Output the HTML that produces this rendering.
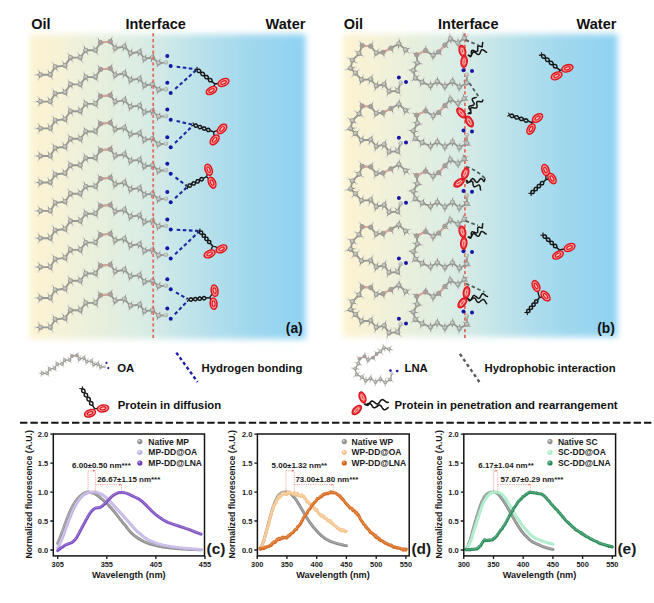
<!DOCTYPE html><html><head><meta charset="utf-8"><title>Figure</title><style>html,body{margin:0;padding:0;background:#fff}svg{display:block}text{font-family:"Liberation Sans",sans-serif}</style></head><body><svg width="654" height="603" viewBox="0 0 654 603"><defs><g id="oa"><path d="M40.5 74.8L38.3 79.6M40.5 74.8L35.2 74.8M40.5 74.8L38.3 70M50.3 74.8L52.9 79.4M50.3 74.8L47.8 70.1M55.2 66.8L57.9 71.3M55.2 66.8L52.4 62.3M65 65.6L67.7 70.1M65 65.6L62.3 61M70.5 57.6L72.9 62.3M70.5 57.6L68 52.9M80.3 57.6L82.6 62.4M80.3 57.6L78.1 52.8M85.8 50.3L88 55.1M85.8 50.3L83.5 45.5M95.5 50.3L98 55M95.5 50.3L93.1 45.6M100.5 42.6L97.7 38.1M110.3 41.6L112.5 36.8M115.2 48.3L113.4 53.3M115.2 48.3L116.7 43.2M124.4 46.5L122.8 51.6M124.4 46.5L126 41.5M130.5 53.2L128.7 58.2M130.5 53.2L132.3 48.2M139.6 52L137.8 57M139.6 52L141.6 47.1M144.5 58.7L142.4 63.6M144.5 58.7L146.6 53.8M152.5 57.5L150.9 62.6M152.5 57.5L154 52.4M158.6 63L156.8 68M158.6 63L160.6 58.1" stroke="#8a8b86" stroke-width="1" fill="none"/><g fill="#e0e1db"><circle cx="38.3" cy="79.6" r="1.2"/><circle cx="35.2" cy="74.8" r="1.2"/><circle cx="38.3" cy="70" r="1.2"/><circle cx="52.9" cy="79.4" r="1.2"/><circle cx="47.8" cy="70.1" r="1.2"/><circle cx="57.9" cy="71.3" r="1.2"/><circle cx="52.4" cy="62.3" r="1.2"/><circle cx="67.7" cy="70.1" r="1.2"/><circle cx="62.3" cy="61" r="1.2"/><circle cx="72.9" cy="62.3" r="1.2"/><circle cx="68" cy="52.9" r="1.2"/><circle cx="82.6" cy="62.4" r="1.2"/><circle cx="78.1" cy="52.8" r="1.2"/><circle cx="88" cy="55.1" r="1.2"/><circle cx="83.5" cy="45.5" r="1.2"/><circle cx="98" cy="55" r="1.2"/><circle cx="93.1" cy="45.6" r="1.2"/><circle cx="97.7" cy="38.1" r="1.2"/><circle cx="112.5" cy="36.8" r="1.2"/><circle cx="113.4" cy="53.3" r="1.2"/><circle cx="116.7" cy="43.2" r="1.2"/><circle cx="122.8" cy="51.6" r="1.2"/><circle cx="126" cy="41.5" r="1.2"/><circle cx="128.7" cy="58.2" r="1.2"/><circle cx="132.3" cy="48.2" r="1.2"/><circle cx="137.8" cy="57" r="1.2"/><circle cx="141.6" cy="47.1" r="1.2"/><circle cx="142.4" cy="63.6" r="1.2"/><circle cx="146.6" cy="53.8" r="1.2"/><circle cx="150.9" cy="62.6" r="1.2"/><circle cx="154" cy="52.4" r="1.2"/><circle cx="156.8" cy="68" r="1.2"/><circle cx="160.6" cy="58.1" r="1.2"/></g><path d="M40.5 74.8L50.3 74.8L55.2 66.8L65 65.6L70.5 57.6L80.3 57.6L85.8 50.3L95.5 50.3L100.5 42.6L110.3 41.6L115.2 48.3L124.4 46.5L130.5 53.2L139.6 52L144.5 58.7L152.5 57.5L158.6 63L166 62.6" stroke="#989994" stroke-width="1.9" fill="none" stroke-linejoin="round"/><path d="M100.5 42.6L110.3 41.6" stroke="#dfa59b" stroke-width="1.9"/><g fill="#a4a5a0" stroke="#878883" stroke-width="0.5"><circle cx="40.5" cy="74.8" r="2.3"/><circle cx="50.3" cy="74.8" r="2.3"/><circle cx="55.2" cy="66.8" r="2.3"/><circle cx="65" cy="65.6" r="2.3"/><circle cx="70.5" cy="57.6" r="2.3"/><circle cx="80.3" cy="57.6" r="2.3"/><circle cx="85.8" cy="50.3" r="2.3"/><circle cx="95.5" cy="50.3" r="2.3"/><circle cx="100.5" cy="42.6" r="2.3"/><circle cx="110.3" cy="41.6" r="2.3"/><circle cx="115.2" cy="48.3" r="2.3"/><circle cx="124.4" cy="46.5" r="2.3"/><circle cx="130.5" cy="53.2" r="2.3"/><circle cx="139.6" cy="52" r="2.3"/><circle cx="144.5" cy="58.7" r="2.3"/><circle cx="152.5" cy="57.5" r="2.3"/><circle cx="158.6" cy="63" r="2.3"/></g><g fill="#c6c7c2"><circle cx="40.2" cy="74.4" r="1.4"/><circle cx="50" cy="74.4" r="1.4"/><circle cx="54.9" cy="66.4" r="1.4"/><circle cx="64.7" cy="65.2" r="1.4"/><circle cx="70.2" cy="57.2" r="1.4"/><circle cx="80" cy="57.2" r="1.4"/><circle cx="85.5" cy="49.9" r="1.4"/><circle cx="95.2" cy="49.9" r="1.4"/><circle cx="100.2" cy="42.2" r="1.4"/><circle cx="110" cy="41.2" r="1.4"/><circle cx="114.9" cy="47.9" r="1.4"/><circle cx="124.1" cy="46.1" r="1.4"/><circle cx="130.2" cy="52.8" r="1.4"/><circle cx="139.3" cy="51.6" r="1.4"/><circle cx="144.2" cy="58.3" r="1.4"/><circle cx="152.2" cy="57.1" r="1.4"/><circle cx="158.3" cy="62.6" r="1.4"/></g><circle cx="100.5" cy="42.6" r="2.2" fill="#a79d99"/><circle cx="110.3" cy="41.6" r="2.2" fill="#a79d99"/><circle cx="166" cy="62.6" r="2.3" fill="#b3bab0"/><circle cx="165.6" cy="62.1" r="1" fill="#d5d9d3"/><circle cx="167.3" cy="56" r="2" fill="#1616a6"/><circle cx="170.7" cy="66.1" r="2" fill="#1616a6"/></g><g id="lnal"><path d="M405.6 49.9L410.5 47.9M405.6 49.9L409.5 53.5M405.6 49.9L404 55M398.9 43.8L399.5 38.5M398.9 43.8L398.3 49.1M390.9 48.1L393.4 52.8M383 52.3L384.5 57.4M376.3 53L379.1 48.5M376.3 53L374.1 57.8M370.7 46.2L373.1 41.5M362.2 45.6L359.4 41.1M359.1 53.6L354.7 50.6M359.1 53.6L363.5 56.5M352.4 60.3L347.8 57.7M352.4 60.3L356.9 63.1M350.6 68.3L345.5 69.6M350.6 68.3L355.8 67.4M355.5 73.1L351.6 76.7M355.5 73.1L359.3 69.4M361.6 79.9L359.6 84.8M361.6 79.9L363.6 75M370.7 79.3L368.7 84.2M370.7 79.3L372.8 74.4M376.3 86L374.5 91M376.3 86L378.2 81.1M384.2 84.2L381.9 89M384.2 84.2L386.2 79.3M389.1 91.5L386.8 96.3M389.1 91.5L391.5 86.8M397.7 90.9L400.9 95.2M397.7 90.9L394.6 86.6" stroke="#8a8b86" stroke-width="1" fill="none"/><g fill="#e0e1db"><circle cx="410.5" cy="47.9" r="1.2"/><circle cx="409.5" cy="53.5" r="1.2"/><circle cx="404" cy="55" r="1.2"/><circle cx="399.5" cy="38.5" r="1.2"/><circle cx="398.3" cy="49.1" r="1.2"/><circle cx="393.4" cy="52.8" r="1.2"/><circle cx="384.5" cy="57.4" r="1.2"/><circle cx="379.1" cy="48.5" r="1.2"/><circle cx="374.1" cy="57.8" r="1.2"/><circle cx="373.1" cy="41.5" r="1.2"/><circle cx="359.4" cy="41.1" r="1.2"/><circle cx="354.7" cy="50.6" r="1.2"/><circle cx="363.5" cy="56.5" r="1.2"/><circle cx="347.8" cy="57.7" r="1.2"/><circle cx="356.9" cy="63.1" r="1.2"/><circle cx="345.5" cy="69.6" r="1.2"/><circle cx="355.8" cy="67.4" r="1.2"/><circle cx="351.6" cy="76.7" r="1.2"/><circle cx="359.3" cy="69.4" r="1.2"/><circle cx="359.6" cy="84.8" r="1.2"/><circle cx="363.6" cy="75" r="1.2"/><circle cx="368.7" cy="84.2" r="1.2"/><circle cx="372.8" cy="74.4" r="1.2"/><circle cx="374.5" cy="91" r="1.2"/><circle cx="378.2" cy="81.1" r="1.2"/><circle cx="381.9" cy="89" r="1.2"/><circle cx="386.2" cy="79.3" r="1.2"/><circle cx="386.8" cy="96.3" r="1.2"/><circle cx="391.5" cy="86.8" r="1.2"/><circle cx="400.9" cy="95.2" r="1.2"/><circle cx="394.6" cy="86.6" r="1.2"/></g><path d="M405.6 49.9L398.9 43.8L390.9 48.1L383 52.3L376.3 53L370.7 46.2L362.2 45.6L359.1 53.6L352.4 60.3L350.6 68.3L355.5 73.1L361.6 79.9L370.7 79.3L376.3 86L384.2 84.2L389.1 91.5L397.7 90.9L400.7 82.9" stroke="#989994" stroke-width="1.9" fill="none" stroke-linejoin="round"/><path d="M390.9 48.1L383 52.3" stroke="#dfa59b" stroke-width="1.9"/><path d="M370.7 46.2L362.2 45.6" stroke="#dfa59b" stroke-width="1.9"/><g fill="#a4a5a0" stroke="#878883" stroke-width="0.5"><circle cx="405.6" cy="49.9" r="2.3"/><circle cx="398.9" cy="43.8" r="2.3"/><circle cx="390.9" cy="48.1" r="2.3"/><circle cx="383" cy="52.3" r="2.3"/><circle cx="376.3" cy="53" r="2.3"/><circle cx="370.7" cy="46.2" r="2.3"/><circle cx="362.2" cy="45.6" r="2.3"/><circle cx="359.1" cy="53.6" r="2.3"/><circle cx="352.4" cy="60.3" r="2.3"/><circle cx="350.6" cy="68.3" r="2.3"/><circle cx="355.5" cy="73.1" r="2.3"/><circle cx="361.6" cy="79.9" r="2.3"/><circle cx="370.7" cy="79.3" r="2.3"/><circle cx="376.3" cy="86" r="2.3"/><circle cx="384.2" cy="84.2" r="2.3"/><circle cx="389.1" cy="91.5" r="2.3"/><circle cx="397.7" cy="90.9" r="2.3"/></g><g fill="#c6c7c2"><circle cx="405.3" cy="49.5" r="1.4"/><circle cx="398.6" cy="43.4" r="1.4"/><circle cx="390.6" cy="47.7" r="1.4"/><circle cx="382.7" cy="51.9" r="1.4"/><circle cx="376" cy="52.6" r="1.4"/><circle cx="370.4" cy="45.8" r="1.4"/><circle cx="361.9" cy="45.2" r="1.4"/><circle cx="358.8" cy="53.2" r="1.4"/><circle cx="352.1" cy="59.9" r="1.4"/><circle cx="350.3" cy="67.9" r="1.4"/><circle cx="355.2" cy="72.7" r="1.4"/><circle cx="361.3" cy="79.5" r="1.4"/><circle cx="370.4" cy="78.9" r="1.4"/><circle cx="376" cy="85.6" r="1.4"/><circle cx="383.9" cy="83.8" r="1.4"/><circle cx="388.8" cy="91.1" r="1.4"/><circle cx="397.4" cy="90.5" r="1.4"/></g><circle cx="390.9" cy="48.1" r="2.2" fill="#a79d99"/><circle cx="383" cy="52.3" r="2.2" fill="#a79d99"/><circle cx="370.7" cy="46.2" r="2.2" fill="#a79d99"/><circle cx="362.2" cy="45.6" r="2.2" fill="#a79d99"/><circle cx="400.7" cy="82.9" r="2.3" fill="#b3bab0"/><circle cx="400.3" cy="82.4" r="1" fill="#d5d9d3"/><circle cx="398.9" cy="77.4" r="2" fill="#1616a6"/><circle cx="406" cy="82" r="2" fill="#1616a6"/></g><g id="lnar"><path d="M464.2 38.3L463 33.1M464.2 38.3L468.4 35.1M464.2 38.3L468.9 40.7M458 43.1L458 37.8M458 43.1L458.3 48.4M450.4 38.9L449.6 33.7M450.4 38.9L451.1 44.2M444.9 45.1L448.9 48.6M438.7 52L442.1 56M433.2 55.5L434.4 50.3M433.2 55.5L432.8 60.8M425.6 50.6L425.9 45.3M416.7 54.8L412.1 52.2M417.4 63L412.2 61.8M417.4 63L422.6 64.1M413.3 70.6L408 69.9M413.3 70.6L418.5 71.4M415.3 78.2L411.1 81.4M415.3 78.2L419.5 75M422.2 82.3L419.8 87M422.2 82.3L424.5 77.5M430.5 85.7L430.8 91M430.5 85.7L430.5 80.4M437.3 81.6L436.8 86.9M437.3 81.6L437.5 76.3M444.9 86.4L444.9 91.7M444.9 86.4L444.9 81.1M452.5 81.6L452.3 86.9M452.5 81.6L452.8 76.3M459.4 87.1L458.9 92.4M459.4 87.1L460 81.8M466.9 83L471.4 85.7M466.9 83L462.4 80.2" stroke="#8a8b86" stroke-width="1" fill="none"/><g fill="#e0e1db"><circle cx="463" cy="33.1" r="1.2"/><circle cx="468.4" cy="35.1" r="1.2"/><circle cx="468.9" cy="40.7" r="1.2"/><circle cx="458" cy="37.8" r="1.2"/><circle cx="458.3" cy="48.4" r="1.2"/><circle cx="449.6" cy="33.7" r="1.2"/><circle cx="451.1" cy="44.2" r="1.2"/><circle cx="448.9" cy="48.6" r="1.2"/><circle cx="442.1" cy="56" r="1.2"/><circle cx="434.4" cy="50.3" r="1.2"/><circle cx="432.8" cy="60.8" r="1.2"/><circle cx="425.9" cy="45.3" r="1.2"/><circle cx="412.1" cy="52.2" r="1.2"/><circle cx="412.2" cy="61.8" r="1.2"/><circle cx="422.6" cy="64.1" r="1.2"/><circle cx="408" cy="69.9" r="1.2"/><circle cx="418.5" cy="71.4" r="1.2"/><circle cx="411.1" cy="81.4" r="1.2"/><circle cx="419.5" cy="75" r="1.2"/><circle cx="419.8" cy="87" r="1.2"/><circle cx="424.5" cy="77.5" r="1.2"/><circle cx="430.8" cy="91" r="1.2"/><circle cx="430.5" cy="80.4" r="1.2"/><circle cx="436.8" cy="86.9" r="1.2"/><circle cx="437.5" cy="76.3" r="1.2"/><circle cx="444.9" cy="91.7" r="1.2"/><circle cx="444.9" cy="81.1" r="1.2"/><circle cx="452.3" cy="86.9" r="1.2"/><circle cx="452.8" cy="76.3" r="1.2"/><circle cx="458.9" cy="92.4" r="1.2"/><circle cx="460" cy="81.8" r="1.2"/><circle cx="471.4" cy="85.7" r="1.2"/><circle cx="462.4" cy="80.2" r="1.2"/></g><path d="M464.2 38.3L458 43.1L450.4 38.9L444.9 45.1L438.7 52L433.2 55.5L425.6 50.6L416.7 54.8L417.4 63L413.3 70.6L415.3 78.2L422.2 82.3L430.5 85.7L437.3 81.6L444.9 86.4L452.5 81.6L459.4 87.1L466.9 83L466.9 74.7" stroke="#989994" stroke-width="1.9" fill="none" stroke-linejoin="round"/><path d="M444.9 45.1L438.7 52" stroke="#dfa59b" stroke-width="1.9"/><path d="M425.6 50.6L416.7 54.8" stroke="#dfa59b" stroke-width="1.9"/><g fill="#a4a5a0" stroke="#878883" stroke-width="0.5"><circle cx="464.2" cy="38.3" r="2.3"/><circle cx="458" cy="43.1" r="2.3"/><circle cx="450.4" cy="38.9" r="2.3"/><circle cx="444.9" cy="45.1" r="2.3"/><circle cx="438.7" cy="52" r="2.3"/><circle cx="433.2" cy="55.5" r="2.3"/><circle cx="425.6" cy="50.6" r="2.3"/><circle cx="416.7" cy="54.8" r="2.3"/><circle cx="417.4" cy="63" r="2.3"/><circle cx="413.3" cy="70.6" r="2.3"/><circle cx="415.3" cy="78.2" r="2.3"/><circle cx="422.2" cy="82.3" r="2.3"/><circle cx="430.5" cy="85.7" r="2.3"/><circle cx="437.3" cy="81.6" r="2.3"/><circle cx="444.9" cy="86.4" r="2.3"/><circle cx="452.5" cy="81.6" r="2.3"/><circle cx="459.4" cy="87.1" r="2.3"/><circle cx="466.9" cy="83" r="2.3"/></g><g fill="#c6c7c2"><circle cx="463.9" cy="37.9" r="1.4"/><circle cx="457.7" cy="42.7" r="1.4"/><circle cx="450.1" cy="38.5" r="1.4"/><circle cx="444.6" cy="44.7" r="1.4"/><circle cx="438.4" cy="51.6" r="1.4"/><circle cx="432.9" cy="55.1" r="1.4"/><circle cx="425.3" cy="50.2" r="1.4"/><circle cx="416.4" cy="54.4" r="1.4"/><circle cx="417.1" cy="62.6" r="1.4"/><circle cx="413" cy="70.2" r="1.4"/><circle cx="415" cy="77.8" r="1.4"/><circle cx="421.9" cy="81.9" r="1.4"/><circle cx="430.2" cy="85.3" r="1.4"/><circle cx="437" cy="81.2" r="1.4"/><circle cx="444.6" cy="86" r="1.4"/><circle cx="452.2" cy="81.2" r="1.4"/><circle cx="459.1" cy="86.7" r="1.4"/><circle cx="466.6" cy="82.6" r="1.4"/></g><circle cx="444.9" cy="45.1" r="2.2" fill="#a79d99"/><circle cx="438.7" cy="52" r="2.2" fill="#a79d99"/><circle cx="425.6" cy="50.6" r="2.2" fill="#a79d99"/><circle cx="416.7" cy="54.8" r="2.2" fill="#a79d99"/><circle cx="466.9" cy="74.7" r="2.3" fill="#b3bab0"/><circle cx="466.5" cy="74.2" r="1" fill="#d5d9d3"/><circle cx="463.5" cy="70.2" r="2" fill="#1616a6"/><circle cx="472" cy="71" r="2" fill="#1616a6"/></g><linearGradient id="bg" x1="0" x2="1" y1="0" y2="0">
<stop offset="0" stop-color="#fdf3d0"/><stop offset="0.11" stop-color="#f6f2d7"/><stop offset="0.22" stop-color="#eaf0dc"/>
<stop offset="0.38" stop-color="#dcede3"/><stop offset="0.46" stop-color="#d3eae6"/><stop offset="0.62" stop-color="#b9e1ea"/>
<stop offset="0.8" stop-color="#a0d8ee"/><stop offset="1" stop-color="#8ed1f2"/></linearGradient>
<filter id="soft" x="-5%" y="-5%" width="110%" height="110%"><feGaussianBlur stdDeviation="3.3"/></filter>
<filter id="b3" x="-5%" y="-5%" width="110%" height="110%"><feGaussianBlur stdDeviation="0.45"/></filter></defs><rect width="654" height="603" fill="#fff"/><rect x="29.6" y="34.2" width="276" height="304.8" fill="url(#bg)" filter="url(#soft)"/>
<rect x="342.8" y="34" width="274.6" height="303" fill="url(#bg)" filter="url(#soft)"/>
<g filter="url(#b3)"><use href="#oa" y="0"/><use href="#oa" y="26.8"/><use href="#oa" y="53.6"/><use href="#oa" y="81.2"/><use href="#oa" y="107.7"/><use href="#oa" y="136.1"/><use href="#oa" y="163.4"/><use href="#oa" y="192.3"/><use href="#oa" y="223.2"/><use href="#oa" y="252.6"/></g>
<path d="M153.2 33.2V339.5" stroke="#e06c62" stroke-width="1.8" stroke-dasharray="3.3 2.5"/>
<path d="M464.9 33.2V339.5" stroke="#e06c62" stroke-width="1.8" stroke-dasharray="3.3 2.5"/>
<path d="M176.7 66.8L195.5 69.2M175.2 88.9L195.9 70.4M176.6 121L192.2 124.6M175 143.1L192.6 125.9M175.5 177.4L186.5 185.7M175.1 198.1L186.6 187.6M176.7 229.8L198.2 230.9M175.1 254.3L198.6 232M175.9 292.3L187.4 298.9M174.8 314.3L187.7 300.8" stroke="#1d28a4" stroke-width="2.1" stroke-dasharray="3.6 2.5" fill="none"/>
<path d="M197 69.4L197.1 70.3L197.2 71.1L197.4 71.8L197.8 72.3L198.4 72.5L199.1 72.6L199.9 72.6L200.8 72.5L201.7 72.3L202.5 72.3L203.2 72.4L203.7 72.7L204.1 73.2L204.4 73.8L204.5 74.6L204.6 75.5L204.6 76.4L204.7 77.2L205 77.9L205.4 78.4L205.9 78.7L206.6 78.8L207.5 78.7L208.3 78.6L209.2 78.5L210 78.4L210.7 78.5L211.3 78.8L211.7 79.3L211.9 80L212.1 80.8L212.1 81.7M197 69.4L197.9 69.3L198.7 69.2L199.4 69.3L200 69.6L200.4 70.1L200.6 70.8L200.7 71.6L200.8 72.5L200.8 73.4L201 74.2L201.2 74.8L201.6 75.3L202.2 75.6L202.9 75.7L203.7 75.7L204.6 75.5L205.4 75.4L206.3 75.4L207 75.5L207.5 75.7L207.9 76.2L208.2 76.9L208.3 77.7L208.3 78.6L208.4 79.5L208.5 80.3L208.8 81L209.2 81.5L209.7 81.7L210.4 81.8L211.2 81.8L212.1 81.7" fill="none" stroke="#161616" stroke-width="1.5" stroke-linejoin="round"/><path d="M212.1 81.7L215 84" stroke="#161616" stroke-width="1.5"/><path d="M197 69.4L194.4 69.9" stroke="#161616" stroke-width="1.1"/><path d="M197 69.4L197 66.8" stroke="#161616" stroke-width="1.1"/><path d="M215 84L219.2 83.2" stroke="#161616" stroke-width="1.3"/><path d="M215 84L213.2 87.2" stroke="#161616" stroke-width="1.3"/><g transform="translate(223.5 82.5) rotate(-25)" stroke="#e0121c"><ellipse rx="5.7" ry="3.4" stroke-width="1.5" fill="#f59a97"/><ellipse rx="2.9" ry="1.4" fill="#f9c4c0" stroke-width="1.1"/></g><g transform="translate(211.5 90.5) rotate(-30)" stroke="#e0121c"><ellipse rx="5.7" ry="3.4" stroke-width="1.5" fill="#f59a97"/><ellipse rx="2.9" ry="1.4" fill="#f9c4c0" stroke-width="1.1"/></g>
<path d="M193.7 124.9L194 125.7L194.4 126.4L194.8 126.9L195.2 127.2L195.8 127.3L196.4 127.1L197.1 126.8L197.9 126.3L198.6 125.9L199.3 125.6L200 125.4L200.5 125.5L201 125.8L201.4 126.3L201.7 127L202.1 127.8L202.4 128.6L202.7 129.3L203.1 129.8L203.6 130.1L204.2 130.2L204.8 130L205.5 129.7L206.2 129.2L207 128.8L207.7 128.5L208.3 128.3L208.9 128.4L209.4 128.7L209.8 129.2L210.1 129.9L210.4 130.7M193.7 124.9L194.4 124.5L195.1 124.1L195.8 124L196.3 124L196.8 124.3L197.2 124.9L197.6 125.6L197.9 126.3L198.2 127.1L198.5 127.8L198.9 128.4L199.4 128.7L200 128.7L200.6 128.6L201.3 128.2L202.1 127.8L202.8 127.4L203.5 127L204.1 126.9L204.7 126.9L205.2 127.2L205.6 127.7L205.9 128.5L206.2 129.2L206.5 130L206.9 130.7L207.3 131.3L207.8 131.6L208.3 131.6L209 131.5L209.7 131.1L210.4 130.7" fill="none" stroke="#161616" stroke-width="1.5" stroke-linejoin="round"/><path d="M210.4 130.7L213.6 131.8" stroke="#161616" stroke-width="1.5"/><path d="M193.7 124.9L191.5 126.2" stroke="#161616" stroke-width="1.1"/><path d="M193.7 124.9L192.8 122.5" stroke="#161616" stroke-width="1.1"/><path d="M213.6 131.8L217.8 130.4" stroke="#161616" stroke-width="1.3"/><path d="M213.6 131.8L214.1 135.8" stroke="#161616" stroke-width="1.3"/><g transform="translate(222 128.9) rotate(-45)" stroke="#e0121c"><ellipse rx="5.7" ry="3.4" stroke-width="1.5" fill="#f59a97"/><ellipse rx="2.9" ry="1.4" fill="#f9c4c0" stroke-width="1.1"/></g><g transform="translate(214.6 139.8) rotate(-50)" stroke="#e0121c"><ellipse rx="5.7" ry="3.4" stroke-width="1.5" fill="#f59a97"/><ellipse rx="2.9" ry="1.4" fill="#f9c4c0" stroke-width="1.1"/></g>
<path d="M187.7 186.6L188.5 186.9L189.3 187.1L189.9 187.2L190.5 187.1L190.9 186.7L191.2 186.1L191.5 185.3L191.7 184.5L191.9 183.7L192.1 182.9L192.4 182.3L192.9 181.9L193.4 181.8L194.1 181.9L194.8 182.1L195.6 182.4L196.4 182.7L197.2 182.9L197.9 183L198.4 182.9L198.9 182.5L199.2 181.9L199.4 181.1L199.6 180.3L199.8 179.5L200 178.7L200.4 178.1L200.8 177.7L201.4 177.6L202 177.7L202.8 177.9L203.6 178.2M187.7 186.6L187.9 185.8L188.1 185L188.5 184.4L188.9 184L189.4 183.9L190.1 184L190.9 184.2L191.7 184.5L192.5 184.8L193.2 185L193.9 185.1L194.4 185L194.9 184.6L195.2 184L195.4 183.2L195.6 182.4L195.8 181.6L196.1 180.8L196.4 180.2L196.8 179.8L197.4 179.7L198.1 179.8L198.8 180L199.6 180.3L200.4 180.6L201.2 180.8L201.8 180.9L202.4 180.8L202.8 180.4L203.1 179.8L203.4 179L203.6 178.2" fill="none" stroke="#161616" stroke-width="1.5" stroke-linejoin="round"/><path d="M203.6 178.2L206.6 176.6" stroke="#161616" stroke-width="1.5"/><path d="M187.7 186.6L187.2 189.1" stroke="#161616" stroke-width="1.1"/><path d="M187.7 186.6L185.3 185.6" stroke="#161616" stroke-width="1.1"/><path d="M206.6 176.6L207.6 173.1" stroke="#161616" stroke-width="1.3"/><path d="M206.6 176.6L209.3 179.6" stroke="#161616" stroke-width="1.3"/><g transform="translate(208.6 169.7) rotate(70)" stroke="#e0121c"><ellipse rx="5.7" ry="3.4" stroke-width="1.5" fill="#f59a97"/><ellipse rx="2.9" ry="1.4" fill="#f9c4c0" stroke-width="1.1"/></g><g transform="translate(212 182.6) rotate(65)" stroke="#e0121c"><ellipse rx="5.7" ry="3.4" stroke-width="1.5" fill="#f59a97"/><ellipse rx="2.9" ry="1.4" fill="#f9c4c0" stroke-width="1.1"/></g>
<path d="M199.7 231L199.5 231.8L199.5 232.6L199.5 233.2L199.8 233.7L200.2 234L200.8 234.1L201.6 234.2L202.4 234.2L203.2 234.1L204 234.2L204.6 234.3L205.1 234.6L205.3 235.1L205.4 235.7L205.3 236.5L205.1 237.3L205 238.1L204.9 238.9L204.9 239.5L205.2 240L205.6 240.3L206.2 240.4L207 240.5L207.8 240.4L208.7 240.4L209.4 240.5L210 240.6L210.5 240.9L210.7 241.4L210.8 242L210.7 242.8L210.5 243.6M199.7 231L200.5 231L201.3 231L201.9 231.2L202.3 231.5L202.6 231.9L202.6 232.6L202.6 233.3L202.4 234.2L202.3 235L202.2 235.7L202.2 236.4L202.5 236.8L202.9 237.1L203.5 237.3L204.3 237.3L205.1 237.3L205.9 237.3L206.7 237.3L207.3 237.5L207.8 237.8L208 238.2L208.1 238.9L208 239.6L207.8 240.4L207.7 241.3L207.6 242L207.7 242.7L207.9 243.1L208.3 243.4L208.9 243.6L209.7 243.6L210.5 243.6" fill="none" stroke="#161616" stroke-width="1.5" stroke-linejoin="round"/><path d="M210.5 243.6L212.6 246" stroke="#161616" stroke-width="1.5"/><path d="M199.7 231L197.1 231" stroke="#161616" stroke-width="1.1"/><path d="M199.7 231L200.1 228.4" stroke="#161616" stroke-width="1.1"/><path d="M212.6 246L217.1 247.4" stroke="#161616" stroke-width="1.3"/><path d="M212.6 246L211.1 249.9" stroke="#161616" stroke-width="1.3"/><g transform="translate(221.5 248.9) rotate(-25)" stroke="#e0121c"><ellipse rx="5.7" ry="3.4" stroke-width="1.5" fill="#f59a97"/><ellipse rx="2.9" ry="1.4" fill="#f9c4c0" stroke-width="1.1"/></g><g transform="translate(209.6 253.9) rotate(-25)" stroke="#e0121c"><ellipse rx="5.7" ry="3.4" stroke-width="1.5" fill="#f59a97"/><ellipse rx="2.9" ry="1.4" fill="#f9c4c0" stroke-width="1.1"/></g>
<path d="M188.7 299.7L189.3 300.3L189.9 300.8L190.5 301.1L191.1 301.2L191.6 301L192.1 300.6L192.6 300L193.1 299.3L193.6 298.6L194.1 298L194.6 297.6L195.1 297.4L195.7 297.5L196.3 297.8L196.9 298.3L197.5 298.9L198.1 299.5L198.7 300L199.3 300.3L199.8 300.3L200.4 300.2L200.9 299.7L201.4 299.1L201.9 298.4L202.4 297.7L202.8 297.1L203.4 296.7L203.9 296.5L204.5 296.6L205 296.9L205.6 297.4L206.3 298M188.7 299.7L189.2 299L189.7 298.4L190.2 298L190.7 297.8L191.3 297.9L191.9 298.2L192.5 298.7L193.1 299.3L193.7 299.9L194.3 300.4L194.9 300.7L195.4 300.8L196 300.6L196.5 300.2L197 299.6L197.5 298.9L198 298.2L198.5 297.6L199 297.1L199.5 297L200.1 297L200.7 297.3L201.3 297.8L201.9 298.4L202.5 299L203.1 299.5L203.7 299.8L204.2 299.9L204.8 299.7L205.3 299.3L205.8 298.7L206.3 298" fill="none" stroke="#161616" stroke-width="1.5" stroke-linejoin="round"/><path d="M206.3 298L209.6 297.7" stroke="#161616" stroke-width="1.5"/><path d="M188.7 299.7L187.2 301.8" stroke="#161616" stroke-width="1.1"/><path d="M188.7 299.7L186.8 297.9" stroke="#161616" stroke-width="1.1"/><path d="M209.6 297.7L212.1 294.2" stroke="#161616" stroke-width="1.3"/><path d="M209.6 297.7L211.6 300.6" stroke="#161616" stroke-width="1.3"/><g transform="translate(214.6 290.7) rotate(80)" stroke="#e0121c"><ellipse rx="5.7" ry="3.4" stroke-width="1.5" fill="#f59a97"/><ellipse rx="2.9" ry="1.4" fill="#f9c4c0" stroke-width="1.1"/></g><g transform="translate(213.6 303.6) rotate(85)" stroke="#e0121c"><ellipse rx="5.7" ry="3.4" stroke-width="1.5" fill="#f59a97"/><ellipse rx="2.9" ry="1.4" fill="#f9c4c0" stroke-width="1.1"/></g>
<g filter="url(#b3)"><use href="#lnal" y="0"/><use href="#lnar" y="0"/><use href="#lnal" y="60.4"/><use href="#lnar" y="60.4"/><use href="#lnal" y="120.7"/><use href="#lnar" y="120.7"/><use href="#lnal" y="181.1"/><use href="#lnar" y="181.1"/><use href="#lnal" y="241.4"/><use href="#lnar" y="241.4"/></g>
<path d="M465.5 40.1L478.5 45M469.4 83L479.5 98M466 166.5Q478 171 485 178.5M465.5 221L478 225.5M466 283.6L484.5 292" stroke="#4d615d" stroke-width="1.8" stroke-dasharray="3.6 2.6" fill="none"/>
<path d="M468.2 55.4L468.6 55.3L469.2 55.4L469.9 55.7L470.6 56L471 55.8L471.2 55.4L471.3 54.9L471.4 54.3L471.4 53.6L471.4 52.8L471.3 52.1L471.4 51.4L471.5 50.9L471.8 50.6L472.1 50.4L472.6 50.3L473.2 50.4L473.8 50.6L474.5 50.9L475.2 51.2L475.8 51.4L476.4 51.5L476.9 51.5L477.3 51.3L477.5 51L477.7 50.5L477.7 49.8L477.7 49.1L477.7 48.4L477.7 47.6L477.7 47L477.8 46.5L478.1 46.1L478.4 45.9L478.9 45.9L479.5 46L480.1 46.2L480.8 46.4L481.5 46.7L482.1 46.9L482.7 42.5M468.2 55.4L468.7 55.6L469.3 56L469.9 56.4L470.5 56.7L470.9 56.3L471.2 55.8L471.5 55.2L471.8 54.4L472.1 53.7L472.4 53.1L472.7 52.5L473.1 52.2L473.6 52L474.1 52L474.6 52.2L475.2 52.6L475.8 53L476.4 53.5L477 54L477.6 54.3L478.1 54.6L478.6 54.6L479 54.4L479.4 54.1L479.8 53.6L480.1 52.9L480.4 52.2L480.6 51.5L481 50.8L481.3 50.3L481.7 49.9L482.1 49.7L482.6 49.7L483.1 49.9L483.7 50.3L484.3 50.7L484.9 51.2L485.5 51.7L486.1 52L486.6 52.3" fill="none" stroke="#161616" stroke-width="1.5" stroke-linejoin="round" stroke-linecap="round"/>
<g transform="translate(462.4 51.1) rotate(75)"><ellipse rx="5.8" ry="3.1" stroke-width="1.4" fill="#ee4044" stroke="#e0121c"/><ellipse rx="3" ry="1.2" fill="none" stroke="#fbd3cf" stroke-width="0.9"/></g>
<g transform="translate(464.1 61.6) rotate(95)"><ellipse rx="5.8" ry="3.1" stroke-width="1.4" fill="#ee4044" stroke="#e0121c"/><ellipse rx="3" ry="1.2" fill="none" stroke="#fbd3cf" stroke-width="0.9"/></g>
<path d="M468.2 113.5L468.5 113.1L469.1 112.9L469.8 112.7L470.6 112.6L470.8 112.2L470.9 111.7L470.7 111.2L470.4 110.6L470.1 109.9L469.7 109.3L469.3 108.6L469 108L468.9 107.5L468.9 107L469.1 106.6L469.5 106.3L470.1 106L470.8 105.8L471.5 105.7L472.2 105.5L472.9 105.3L473.5 105L473.9 104.7L474.1 104.3L474.2 103.9L474.1 103.3L473.8 102.7L473.4 102.1L473 101.4L472.7 100.8L472.4 100.2L472.2 99.6L472.2 99.1L472.4 98.8L472.8 98.4L473.4 98.2L474.1 98L474.8 97.8L475.5 97.6L476.2 97.4M468.2 113.5L468.8 113.4L469.5 113.5L470.2 113.5L470.8 113.5L470.9 113L471 112.4L470.9 111.7L470.8 110.9L470.6 110.1L470.6 109.4L470.6 108.8L470.7 108.3L471 107.9L471.4 107.7L472 107.6L472.7 107.7L473.4 107.7L474.2 107.9L474.9 107.9L475.6 108L476.2 107.9L476.6 107.7L476.9 107.3L477 106.8L477 106.2L477 105.5L476.9 104.7L476.7 104L476.7 103.3L476.7 102.6L476.8 102.1L477.1 101.8L477.5 101.5L478.1 101.4L478.7 101.5L479.5 101.5L480.2 101.7L481 101.8L481.6 101.8L482.2 101.7L482.8 99.9" fill="none" stroke="#161616" stroke-width="1.5" stroke-linejoin="round" stroke-linecap="round"/>
<g transform="translate(461.2 112.9) rotate(50)"><ellipse rx="5.8" ry="3.1" stroke-width="1.4" fill="#ee4044" stroke="#e0121c"/><ellipse rx="3" ry="1.2" fill="none" stroke="#fbd3cf" stroke-width="0.9"/></g>
<g transform="translate(469.4 121.6) rotate(60)"><ellipse rx="5.8" ry="3.1" stroke-width="1.4" fill="#ee4044" stroke="#e0121c"/><ellipse rx="3" ry="1.2" fill="none" stroke="#fbd3cf" stroke-width="0.9"/></g>
<path d="M466.5 180.5L466.9 180.7L467.4 181.1L467.8 181.7L468.2 182.3L468.7 182.4L469.1 182.2L469.6 181.9L470 181.4L470.4 180.8L470.9 180.2L471.3 179.6L471.8 179.1L472.2 178.8L472.6 178.6L473.1 178.7L473.5 178.9L473.9 179.3L474.4 179.9L474.8 180.5L475.2 181.1L475.7 181.6L476.1 182.1L476.6 182.3L477 182.4L477.4 182.3L477.9 181.9L478.3 181.4L478.8 180.9L479.2 180.2L479.6 179.6L480.1 179.1L480.5 178.8L480.9 178.6L481.4 178.6L481.8 178.9L482.2 179.3L482.7 179.8L483.1 180.4L483.6 181.1L484 181.6L485 179M466.5 180.5L466.7 181L466.8 181.7L467 182.4L467.1 182.9L467.6 182.9L468.2 182.7L468.8 182.4L469.5 182.1L470.2 181.8L470.8 181.5L471.4 181.3L471.9 181.3L472.3 181.4L472.6 181.8L472.8 182.3L472.9 182.9L473 183.6L473.1 184.4L473.2 185.1L473.3 185.7L473.6 186.2L473.9 186.6L474.3 186.7L474.7 186.7L475.3 186.6L475.9 186.3L476.6 185.9L477.3 185.6L477.9 185.3L478.5 185.1L479 185.1L479.4 185.2L479.7 185.5L479.9 186L480.1 186.7L480.2 187.4L480.3 188.1L480.3 188.9L480.5 189.5L480.7 190" fill="none" stroke="#161616" stroke-width="1.5" stroke-linejoin="round" stroke-linecap="round"/>
<g transform="translate(465.3 173.5) rotate(110)"><ellipse rx="5.8" ry="3.1" stroke-width="1.4" fill="#ee4044" stroke="#e0121c"/><ellipse rx="3" ry="1.2" fill="none" stroke="#fbd3cf" stroke-width="0.9"/></g>
<g transform="translate(459 182.8) rotate(145)"><ellipse rx="5.8" ry="3.1" stroke-width="1.4" fill="#ee4044" stroke="#e0121c"/><ellipse rx="3" ry="1.2" fill="none" stroke="#fbd3cf" stroke-width="0.9"/></g>
<path d="M468.2 237L468.6 236.9L469.2 237L469.9 237.2L470.6 237.5L471 237.3L471.2 236.9L471.4 236.4L471.4 235.8L471.4 235.1L471.3 234.3L471.3 233.6L471.4 232.9L471.5 232.4L471.7 232L472.1 231.8L472.6 231.8L473.1 231.9L473.8 232.1L474.5 232.3L475.2 232.6L475.9 232.8L476.4 232.9L476.9 232.8L477.3 232.6L477.6 232.3L477.7 231.8L477.7 231.1L477.7 230.4L477.7 229.7L477.7 229L477.7 228.3L477.8 227.8L478.1 227.4L478.4 227.2L478.9 227.1L479.5 227.2L480.1 227.4L480.8 227.6L481.5 227.9L482.2 228.1L482.7 223.7M468.2 237L468.7 237.2L469.3 237.6L469.9 238L470.4 238.3L470.8 237.9L471.1 237.4L471.4 236.8L471.7 236.1L472 235.4L472.3 234.7L472.6 234.2L473 233.8L473.4 233.6L473.9 233.7L474.4 233.9L475 234.2L475.6 234.7L476.2 235.2L476.7 235.6L477.3 236L477.8 236.2L478.3 236.2L478.7 236.1L479.1 235.7L479.4 235.2L479.7 234.6L480 233.9L480.3 233.1L480.6 232.5L480.9 232L481.3 231.6L481.7 231.4L482.2 231.4L482.7 231.6L483.3 232L483.9 232.4L484.5 232.9L485 233.4L485.6 233.7L486.1 234" fill="none" stroke="#161616" stroke-width="1.5" stroke-linejoin="round" stroke-linecap="round"/>
<g transform="translate(462.4 231.8) rotate(75)"><ellipse rx="5.8" ry="3.1" stroke-width="1.4" fill="#ee4044" stroke="#e0121c"/><ellipse rx="3" ry="1.2" fill="none" stroke="#fbd3cf" stroke-width="0.9"/></g>
<g transform="translate(463.8 243.2) rotate(95)"><ellipse rx="5.8" ry="3.1" stroke-width="1.4" fill="#ee4044" stroke="#e0121c"/><ellipse rx="3" ry="1.2" fill="none" stroke="#fbd3cf" stroke-width="0.9"/></g>
<path d="M467.7 298.7L468.2 298.8L468.7 299.1L469.3 299.6L469.9 300.1L470.4 300.1L470.8 299.9L471.2 299.4L471.5 298.9L471.9 298.2L472.2 297.5L472.6 296.8L472.9 296.2L473.3 295.8L473.7 295.6L474.2 295.5L474.7 295.6L475.2 296L475.8 296.4L476.4 296.9L477 297.4L477.5 297.9L478.1 298.2L478.6 298.4L479.1 298.3L479.5 298.1L479.9 297.7L480.2 297.1L480.6 296.5L480.9 295.8L481.3 295.1L481.6 294.5L482 294.1L482.4 293.8L482.9 293.7L483.4 293.9L483.9 294.2L484.5 294.6L485.1 295.1L485.7 295.6L486.2 296.1L487.5 296.5M467.7 298.7L468.1 299.1L468.5 299.7L468.9 300.3L469.3 300.8L469.8 300.7L470.4 300.3L471 299.9L471.6 299.4L472.1 298.8L472.7 298.4L473.3 298L473.8 297.9L474.3 297.9L474.7 298.1L475.2 298.5L475.6 299.1L476 299.8L476.3 300.5L476.7 301.1L477.1 301.7L477.5 302.1L478 302.4L478.5 302.4L479 302.3L479.6 301.9L480.1 301.5L480.7 301L481.3 300.4L481.9 300L482.4 299.6L483 299.5L483.5 299.5L483.9 299.7L484.3 300.1L484.7 300.7L485.1 301.3L485.5 302L485.9 302.7L486.3 303.3L486.7 303.7" fill="none" stroke="#161616" stroke-width="1.5" stroke-linejoin="round" stroke-linecap="round"/>
<g transform="translate(466.5 292.3) rotate(100)"><ellipse rx="5.8" ry="3.1" stroke-width="1.4" fill="#ee4044" stroke="#e0121c"/><ellipse rx="3" ry="1.2" fill="none" stroke="#fbd3cf" stroke-width="0.9"/></g>
<g transform="translate(462.4 302.8) rotate(130)"><ellipse rx="5.8" ry="3.1" stroke-width="1.4" fill="#ee4044" stroke="#e0121c"/><ellipse rx="3" ry="1.2" fill="none" stroke="#fbd3cf" stroke-width="0.9"/></g>
<path d="M541.5 54.9L541.6 55.8L541.7 56.6L542 57.3L542.4 57.8L542.9 58.1L543.6 58.2L544.5 58.2L545.4 58.1L546.3 58L547.1 58L547.8 58.1L548.4 58.4L548.8 58.9L549.1 59.6L549.2 60.5L549.3 61.4L549.3 62.3L549.5 63.1L549.7 63.8L550.1 64.3L550.7 64.6L551.4 64.7L552.3 64.7L553.2 64.6L554.1 64.5L554.9 64.5L555.6 64.6L556.2 64.9L556.6 65.4L556.8 66.1L557 66.9L557 67.8M541.5 54.9L542.4 54.8L543.2 54.8L544 54.9L544.5 55.2L544.9 55.7L545.2 56.4L545.3 57.2L545.4 58.1L545.5 59L545.6 59.9L545.8 60.6L546.2 61.1L546.8 61.4L547.5 61.5L548.4 61.5L549.3 61.4L550.2 61.3L551 61.3L551.7 61.4L552.3 61.7L552.7 62.2L553 62.9L553.1 63.7L553.2 64.6L553.2 65.5L553.4 66.3L553.6 67L554 67.5L554.6 67.8L555.3 68L556.1 67.9L557 67.8" fill="none" stroke="#161616" stroke-width="1.5" stroke-linejoin="round"/><path d="M557 67.8L560 70.3" stroke="#161616" stroke-width="1.5"/><path d="M541.5 54.9L538.9 55.4" stroke="#161616" stroke-width="1.1"/><path d="M541.5 54.9L541.5 52.3" stroke="#161616" stroke-width="1.1"/><path d="M560 70.3L563.7 69.3" stroke="#161616" stroke-width="1.3"/><path d="M560 70.3L558.3 73" stroke="#161616" stroke-width="1.3"/><g transform="translate(567.4 68.3) rotate(-18)" stroke="#e0121c"><ellipse rx="5.7" ry="3.4" stroke-width="1.5" fill="#f59a97"/><ellipse rx="2.9" ry="1.4" fill="#f9c4c0" stroke-width="1.1"/></g><g transform="translate(556.6 75.8) rotate(-25)" stroke="#e0121c"><ellipse rx="5.7" ry="3.4" stroke-width="1.5" fill="#f59a97"/><ellipse rx="2.9" ry="1.4" fill="#f9c4c0" stroke-width="1.1"/></g>
<path d="M509.5 115L509.9 115.8L510.3 116.5L510.8 117.1L511.3 117.4L512 117.5L512.7 117.3L513.4 117L514.2 116.6L515 116.2L515.8 115.8L516.5 115.7L517.1 115.7L517.7 116.1L518.1 116.6L518.6 117.3L519 118.2L519.3 119L519.8 119.7L520.2 120.2L520.8 120.6L521.4 120.6L522.1 120.5L522.9 120.1L523.7 119.7L524.5 119.3L525.2 119L525.9 118.8L526.6 118.9L527.1 119.2L527.6 119.8L528 120.5L528.4 121.3M509.5 115L510.3 114.6L511.1 114.3L511.8 114.1L512.4 114.2L512.9 114.5L513.4 115L513.8 115.8L514.2 116.6L514.6 117.4L515 118.1L515.5 118.7L516 119L516.7 119L517.4 118.9L518.2 118.6L519 118.2L519.7 117.7L520.5 117.4L521.2 117.3L521.9 117.3L522.4 117.6L522.9 118.2L523.3 118.9L523.7 119.7L524.1 120.5L524.5 121.3L525 121.8L525.5 122.1L526.1 122.2L526.8 122L527.6 121.7L528.4 121.3" fill="none" stroke="#161616" stroke-width="1.5" stroke-linejoin="round"/><path d="M528.4 121.3L532 122.5" stroke="#161616" stroke-width="1.5"/><path d="M509.5 115L507.3 116.4" stroke="#161616" stroke-width="1.1"/><path d="M509.5 115L508.5 112.6" stroke="#161616" stroke-width="1.1"/><path d="M532 122.5L534.8 120.2" stroke="#161616" stroke-width="1.3"/><path d="M532 122.5L531.5 125.8" stroke="#161616" stroke-width="1.3"/><g transform="translate(537.5 118) rotate(-35)" stroke="#e0121c"><ellipse rx="5.7" ry="3.4" stroke-width="1.5" fill="#f59a97"/><ellipse rx="2.9" ry="1.4" fill="#f9c4c0" stroke-width="1.1"/></g><g transform="translate(531 129) rotate(-60)" stroke="#e0121c"><ellipse rx="5.7" ry="3.4" stroke-width="1.5" fill="#f59a97"/><ellipse rx="2.9" ry="1.4" fill="#f9c4c0" stroke-width="1.1"/></g>
<path d="M531 193.5L531.8 193.6L532.6 193.6L533.3 193.5L533.7 193.3L534 192.8L534.2 192.2L534.2 191.4L534.1 190.6L534.1 189.7L534.1 188.9L534.3 188.3L534.6 187.8L535 187.6L535.7 187.5L536.5 187.5L537.3 187.6L538.1 187.7L538.9 187.8L539.6 187.7L540 187.4L540.3 186.9L540.5 186.3L540.5 185.5L540.5 184.7L540.4 183.8L540.4 183.1L540.6 182.4L540.9 182L541.3 181.7L542 181.6L542.8 181.6L543.6 181.7M531 193.5L530.9 192.7L531 191.9L531.1 191.2L531.4 190.8L531.9 190.5L532.5 190.4L533.3 190.5L534.1 190.6L535 190.7L535.8 190.7L536.4 190.6L536.9 190.3L537.2 189.9L537.3 189.2L537.4 188.5L537.3 187.6L537.2 186.8L537.3 186L537.4 185.4L537.7 184.9L538.2 184.6L538.8 184.5L539.6 184.6L540.5 184.7L541.3 184.8L542.1 184.8L542.7 184.7L543.2 184.5L543.5 184L543.6 183.4L543.7 182.6L543.6 181.7" fill="none" stroke="#161616" stroke-width="1.5" stroke-linejoin="round"/><path d="M543.6 181.7L546 179.5" stroke="#161616" stroke-width="1.5"/><path d="M531 193.5L531.1 196.1" stroke="#161616" stroke-width="1.1"/><path d="M531 193.5L528.4 193.2" stroke="#161616" stroke-width="1.1"/><path d="M546 179.5L545.8 174.8" stroke="#161616" stroke-width="1.3"/><path d="M546 179.5L549 179" stroke="#161616" stroke-width="1.3"/><g transform="translate(545.5 170) rotate(70)" stroke="#e0121c"><ellipse rx="5.7" ry="3.4" stroke-width="1.5" fill="#f59a97"/><ellipse rx="2.9" ry="1.4" fill="#f9c4c0" stroke-width="1.1"/></g><g transform="translate(552 178.5) rotate(60)" stroke="#e0121c"><ellipse rx="5.7" ry="3.4" stroke-width="1.5" fill="#f59a97"/><ellipse rx="2.9" ry="1.4" fill="#f9c4c0" stroke-width="1.1"/></g>
<path d="M543 235L543 235.9L543.1 236.7L543.2 237.3L543.6 237.8L544.1 238.1L544.8 238.3L545.6 238.2L546.5 238.2L547.3 238.1L548.1 238L548.8 238.2L549.3 238.5L549.7 239L549.9 239.6L549.9 240.4L549.9 241.3L549.9 242.2L550 243L550.2 243.6L550.5 244.1L551 244.4L551.7 244.6L552.5 244.5L553.4 244.4L554.3 244.4L555.1 244.3L555.8 244.5L556.3 244.8L556.6 245.3L556.8 245.9L556.9 246.7L556.9 247.6M543 235L543.9 234.9L544.7 234.9L545.4 235L545.9 235.3L546.2 235.8L546.4 236.5L546.5 237.3L546.5 238.2L546.5 239L546.5 239.8L546.7 240.5L547.1 241L547.6 241.3L548.3 241.4L549.1 241.4L549.9 241.3L550.8 241.2L551.6 241.2L552.3 241.3L552.8 241.6L553.2 242.1L553.3 242.8L553.4 243.6L553.4 244.4L553.4 245.3L553.5 246.1L553.6 246.8L554 247.3L554.5 247.6L555.2 247.7L556 247.7L556.9 247.6" fill="none" stroke="#161616" stroke-width="1.5" stroke-linejoin="round"/><path d="M556.9 247.6L559.5 250" stroke="#161616" stroke-width="1.5"/><path d="M543 235L540.4 235.3" stroke="#161616" stroke-width="1.1"/><path d="M543 235L543.1 232.4" stroke="#161616" stroke-width="1.1"/><path d="M559.5 250L564.5 248.8" stroke="#161616" stroke-width="1.3"/><path d="M559.5 250L558.8 252.5" stroke="#161616" stroke-width="1.3"/><g transform="translate(569.5 247.5) rotate(-25)" stroke="#e0121c"><ellipse rx="5.7" ry="3.4" stroke-width="1.5" fill="#f59a97"/><ellipse rx="2.9" ry="1.4" fill="#f9c4c0" stroke-width="1.1"/></g><g transform="translate(558 255) rotate(-30)" stroke="#e0121c"><ellipse rx="5.7" ry="3.4" stroke-width="1.5" fill="#f59a97"/><ellipse rx="2.9" ry="1.4" fill="#f9c4c0" stroke-width="1.1"/></g>
<path d="M527 312.5L527.8 312.5L528.6 312.5L529.2 312.3L529.6 312L529.8 311.5L529.9 310.9L529.8 310.2L529.6 309.4L529.5 308.5L529.4 307.8L529.4 307.2L529.6 306.7L530.1 306.4L530.7 306.2L531.4 306.2L532.2 306.2L533.1 306.2L533.8 306.2L534.4 306L534.9 305.7L535.1 305.2L535.1 304.6L535 303.9L534.9 303L534.7 302.2L534.6 301.5L534.7 300.9L534.9 300.4L535.3 300.1L535.9 299.9L536.7 299.9L537.5 299.9M527 312.5L526.8 311.7L526.7 310.9L526.8 310.3L527 309.8L527.4 309.5L528 309.4L528.8 309.3L529.6 309.4L530.5 309.4L531.2 309.3L531.8 309.2L532.2 308.9L532.5 308.4L532.5 307.8L532.4 307L532.2 306.2L532.1 305.4L532 304.6L532 304L532.3 303.5L532.7 303.2L533.3 303.1L534 303L534.9 303L535.7 303.1L536.5 303L537.1 302.9L537.5 302.6L537.7 302.1L537.8 301.5L537.7 300.7L537.5 299.9" fill="none" stroke="#161616" stroke-width="1.5" stroke-linejoin="round"/><path d="M537.5 299.9L539.5 297.5" stroke="#161616" stroke-width="1.5"/><path d="M527 312.5L527.5 315.1" stroke="#161616" stroke-width="1.1"/><path d="M527 312.5L524.4 312.5" stroke="#161616" stroke-width="1.1"/><path d="M539.5 297.5L537.8 291.8" stroke="#161616" stroke-width="1.3"/><path d="M539.5 297.5L542.5 296.8" stroke="#161616" stroke-width="1.3"/><g transform="translate(536 286) rotate(65)" stroke="#e0121c"><ellipse rx="5.7" ry="3.4" stroke-width="1.5" fill="#f59a97"/><ellipse rx="2.9" ry="1.4" fill="#f9c4c0" stroke-width="1.1"/></g><g transform="translate(545.5 296) rotate(50)" stroke="#e0121c"><ellipse rx="5.7" ry="3.4" stroke-width="1.5" fill="#f59a97"/><ellipse rx="2.9" ry="1.4" fill="#f9c4c0" stroke-width="1.1"/></g>
<g font-family="Liberation Sans, sans-serif" font-weight="bold" fill="#111">
<text x="31.2" y="28.9" font-size="14.5" text-anchor="start" >Oil</text>
<text x="125.4" y="28.9" font-size="14.5" text-anchor="start" >Interface</text>
<text x="265.6" y="28.9" font-size="14.5" text-anchor="start" >Water</text>
<text x="343.8" y="28.9" font-size="14.5" text-anchor="start" >Oil</text>
<text x="438" y="28.9" font-size="14.5" text-anchor="start" >Interface</text>
<text x="576.6" y="28.9" font-size="14.5" text-anchor="start" >Water</text>
<text x="285.8" y="333" font-size="13.8" text-anchor="start" >(a)</text>
<text x="597.2" y="333" font-size="13.8" text-anchor="start" >(b)</text>
<text x="117.3" y="371.7" font-size="11.35" text-anchor="start" >OA</text>
<text x="201.5" y="371.5" font-size="11.35" text-anchor="start" >Hydrogen bonding</text>
<text x="117.8" y="408.9" font-size="11.35" text-anchor="start" >Protein in diffusion</text>
<text x="404.5" y="371.5" font-size="11.35" text-anchor="start" >LNA</text>
<text x="484.5" y="371.5" font-size="11.35" text-anchor="start" >Hydrophobic interaction</text>
<text x="394.5" y="409" font-size="11.35" text-anchor="start" >Protein in penetration and rearrangement</text>
</g>
<g filter="url(#b3)"><path d="M42.4 373.3L41 376.3M42.4 373.3L39.1 373.3M42.4 373.3L41 370.3M47.2 373.3L48.9 376.1M47.2 373.3L45.5 370.5M49.6 369L51.5 371.7M49.6 369L47.8 366.3M54.5 368.3L56.3 371.1M54.5 368.3L52.7 365.6M57.2 364L58.9 366.8M57.2 364L55.6 361.2M62.1 364L63.6 366.9M62.1 364L60.6 361.1M64.8 360.1L66.3 363M64.8 360.1L63.3 357.2M69.6 360.1L71.2 362.9M69.6 360.1L68 357.2M72.1 355.9L70.3 353.2M76.9 355.4L78.3 352.4M79.3 359L78.2 362.1M79.3 359L80.4 355.9M83.9 358L82.8 361.1M83.9 358L85 354.9M86.9 361.6L85.7 364.7M86.9 361.6L88.2 358.6M91.4 361L90.2 364M91.4 361L92.7 358M93.9 364.6L92.5 367.6M93.9 364.6L95.3 361.7M97.8 364L96.7 367.1M97.8 364L98.8 360.8M100.8 366.9L99.6 370M100.8 366.9L102.2 364" stroke="#8a8b86" stroke-width="0.6" fill="none"/><g fill="#e0e1db"><circle cx="41" cy="376.3" r="0.8"/><circle cx="39.1" cy="373.3" r="0.8"/><circle cx="41" cy="370.3" r="0.8"/><circle cx="48.9" cy="376.1" r="0.8"/><circle cx="45.5" cy="370.5" r="0.8"/><circle cx="51.5" cy="371.7" r="0.8"/><circle cx="47.8" cy="366.3" r="0.8"/><circle cx="56.3" cy="371.1" r="0.8"/><circle cx="52.7" cy="365.6" r="0.8"/><circle cx="58.9" cy="366.8" r="0.8"/><circle cx="55.6" cy="361.2" r="0.8"/><circle cx="63.6" cy="366.9" r="0.8"/><circle cx="60.6" cy="361.1" r="0.8"/><circle cx="66.3" cy="363" r="0.8"/><circle cx="63.3" cy="357.2" r="0.8"/><circle cx="71.2" cy="362.9" r="0.8"/><circle cx="68" cy="357.2" r="0.8"/><circle cx="70.3" cy="353.2" r="0.8"/><circle cx="78.3" cy="352.4" r="0.8"/><circle cx="78.2" cy="362.1" r="0.8"/><circle cx="80.4" cy="355.9" r="0.8"/><circle cx="82.8" cy="361.1" r="0.8"/><circle cx="85" cy="354.9" r="0.8"/><circle cx="85.7" cy="364.7" r="0.8"/><circle cx="88.2" cy="358.6" r="0.8"/><circle cx="90.2" cy="364" r="0.8"/><circle cx="92.7" cy="358" r="0.8"/><circle cx="92.5" cy="367.6" r="0.8"/><circle cx="95.3" cy="361.7" r="0.8"/><circle cx="96.7" cy="367.1" r="0.8"/><circle cx="98.8" cy="360.8" r="0.8"/><circle cx="99.6" cy="370" r="0.8"/><circle cx="102.2" cy="364" r="0.8"/></g><path d="M42.4 373.3L47.2 373.3L49.6 369L54.5 368.3L57.2 364L62.1 364L64.8 360.1L69.6 360.1L72.1 355.9L76.9 355.4L79.3 359L83.9 358L86.9 361.6L91.4 361L93.9 364.6L97.8 364L100.8 366.9L104.5 366.7" stroke="#989994" stroke-width="1.2" fill="none" stroke-linejoin="round"/><path d="M72.1 355.9L76.9 355.4" stroke="#dfa59b" stroke-width="1.2"/><g fill="#a4a5a0" stroke="#878883" stroke-width="0.5"><circle cx="42.4" cy="373.3" r="1.5"/><circle cx="47.2" cy="373.3" r="1.5"/><circle cx="49.6" cy="369" r="1.5"/><circle cx="54.5" cy="368.3" r="1.5"/><circle cx="57.2" cy="364" r="1.5"/><circle cx="62.1" cy="364" r="1.5"/><circle cx="64.8" cy="360.1" r="1.5"/><circle cx="69.6" cy="360.1" r="1.5"/><circle cx="72.1" cy="355.9" r="1.5"/><circle cx="76.9" cy="355.4" r="1.5"/><circle cx="79.3" cy="359" r="1.5"/><circle cx="83.9" cy="358" r="1.5"/><circle cx="86.9" cy="361.6" r="1.5"/><circle cx="91.4" cy="361" r="1.5"/><circle cx="93.9" cy="364.6" r="1.5"/><circle cx="97.8" cy="364" r="1.5"/><circle cx="100.8" cy="366.9" r="1.5"/></g><g fill="#c6c7c2"><circle cx="42.2" cy="373.1" r="0.9"/><circle cx="47" cy="373.1" r="0.9"/><circle cx="49.5" cy="368.7" r="0.9"/><circle cx="54.3" cy="368.1" r="0.9"/><circle cx="57" cy="363.8" r="0.9"/><circle cx="61.9" cy="363.8" r="0.9"/><circle cx="64.6" cy="359.8" r="0.9"/><circle cx="69.4" cy="359.8" r="0.9"/><circle cx="71.9" cy="355.7" r="0.9"/><circle cx="76.7" cy="355.1" r="0.9"/><circle cx="79.2" cy="358.7" r="0.9"/><circle cx="83.7" cy="357.8" r="0.9"/><circle cx="86.7" cy="361.4" r="0.9"/><circle cx="91.2" cy="360.7" r="0.9"/><circle cx="93.7" cy="364.4" r="0.9"/><circle cx="97.6" cy="363.7" r="0.9"/><circle cx="100.6" cy="366.7" r="0.9"/></g><circle cx="72.1" cy="355.9" r="1.4" fill="#a79d99"/><circle cx="76.9" cy="355.4" r="1.4" fill="#a79d99"/><circle cx="104.5" cy="366.7" r="1.5" fill="#b3bab0"/><circle cx="104.2" cy="366.4" r="0.6" fill="#d5d9d3"/><circle cx="106.5" cy="362.9" r="1.1" fill="#1616a6"/><circle cx="108.3" cy="368.1" r="1.1" fill="#1616a6"/></g>
<path d="M176.3 352.6L197.6 382" stroke="#1c1ca6" stroke-width="2.4" stroke-dasharray="3.2 2.7"/>
<g filter="url(#b3)"><path d="M388.9 349L391.2 346.1M388.9 349L392.5 349.9M388.9 349L389.6 352.6M384 347.8L383 344.2M384 347.8L385.1 351.4M380.4 351.5L378 348.7M380.4 351.5L382.8 354.4M376.7 353.9L374.4 351M373 357.6L375.2 360.6M368.1 360L368.6 356.3M368.1 360L367.5 363.7M364.5 356.3L365.1 352.6M359.6 358.8L356.7 356.5M358.3 363.7L354.9 362.1M358.3 363.7L361.7 365.2M355.2 368.6L351.5 368M355.2 368.6L358.9 369.1M356.6 374.7L353.7 377M356.6 374.7L359.5 372.4M362 377.1L360 380.2M362 377.1L364.1 374M365.7 380.8L365.1 384.5M365.7 380.8L366.2 377.1M370.6 378.4L370 382.1M370.6 378.4L371 374.7M375.5 382L375.3 385.7M375.5 382L375.9 378.3M380.4 379.1L380.1 382.8M380.4 379.1L380.6 375.4M385.3 382.5L385.1 386.2M385.3 382.5L385.6 378.8M390.2 379.6L393.2 381.8M390.2 379.6L387.2 377.5" stroke="#8a8b86" stroke-width="0.7" fill="none"/><g fill="#e0e1db"><circle cx="391.2" cy="346.1" r="0.8"/><circle cx="392.5" cy="349.9" r="0.8"/><circle cx="389.6" cy="352.6" r="0.8"/><circle cx="383" cy="344.2" r="0.8"/><circle cx="385.1" cy="351.4" r="0.8"/><circle cx="378" cy="348.7" r="0.8"/><circle cx="382.8" cy="354.4" r="0.8"/><circle cx="374.4" cy="351" r="0.8"/><circle cx="375.2" cy="360.6" r="0.8"/><circle cx="368.6" cy="356.3" r="0.8"/><circle cx="367.5" cy="363.7" r="0.8"/><circle cx="365.1" cy="352.6" r="0.8"/><circle cx="356.7" cy="356.5" r="0.8"/><circle cx="354.9" cy="362.1" r="0.8"/><circle cx="361.7" cy="365.2" r="0.8"/><circle cx="351.5" cy="368" r="0.8"/><circle cx="358.9" cy="369.1" r="0.8"/><circle cx="353.7" cy="377" r="0.8"/><circle cx="359.5" cy="372.4" r="0.8"/><circle cx="360" cy="380.2" r="0.8"/><circle cx="364.1" cy="374" r="0.8"/><circle cx="365.1" cy="384.5" r="0.8"/><circle cx="366.2" cy="377.1" r="0.8"/><circle cx="370" cy="382.1" r="0.8"/><circle cx="371" cy="374.7" r="0.8"/><circle cx="375.3" cy="385.7" r="0.8"/><circle cx="375.9" cy="378.3" r="0.8"/><circle cx="380.1" cy="382.8" r="0.8"/><circle cx="380.6" cy="375.4" r="0.8"/><circle cx="385.1" cy="386.2" r="0.8"/><circle cx="385.6" cy="378.8" r="0.8"/><circle cx="393.2" cy="381.8" r="0.8"/><circle cx="387.2" cy="377.5" r="0.8"/></g><path d="M388.9 349L384 347.8L380.4 351.5L376.7 353.9L373 357.6L368.1 360L364.5 356.3L359.6 358.8L358.3 363.7L355.2 368.6L356.6 374.7L362 377.1L365.7 380.8L370.6 378.4L375.5 382L380.4 379.1L385.3 382.5L390.2 379.6L391.9 373.5" stroke="#989994" stroke-width="1.3" fill="none" stroke-linejoin="round"/><path d="M376.7 353.9L373 357.6" stroke="#dfa59b" stroke-width="1.3"/><path d="M364.5 356.3L359.6 358.8" stroke="#dfa59b" stroke-width="1.3"/><g fill="#a4a5a0" stroke="#878883" stroke-width="0.5"><circle cx="388.9" cy="349" r="1.6"/><circle cx="384" cy="347.8" r="1.6"/><circle cx="380.4" cy="351.5" r="1.6"/><circle cx="376.7" cy="353.9" r="1.6"/><circle cx="373" cy="357.6" r="1.6"/><circle cx="368.1" cy="360" r="1.6"/><circle cx="364.5" cy="356.3" r="1.6"/><circle cx="359.6" cy="358.8" r="1.6"/><circle cx="358.3" cy="363.7" r="1.6"/><circle cx="355.2" cy="368.6" r="1.6"/><circle cx="356.6" cy="374.7" r="1.6"/><circle cx="362" cy="377.1" r="1.6"/><circle cx="365.7" cy="380.8" r="1.6"/><circle cx="370.6" cy="378.4" r="1.6"/><circle cx="375.5" cy="382" r="1.6"/><circle cx="380.4" cy="379.1" r="1.6"/><circle cx="385.3" cy="382.5" r="1.6"/><circle cx="390.2" cy="379.6" r="1.6"/></g><g fill="#c6c7c2"><circle cx="388.7" cy="348.7" r="1"/><circle cx="383.8" cy="347.5" r="1"/><circle cx="380.2" cy="351.2" r="1"/><circle cx="376.5" cy="353.6" r="1"/><circle cx="372.8" cy="357.3" r="1"/><circle cx="367.9" cy="359.7" r="1"/><circle cx="364.3" cy="356" r="1"/><circle cx="359.4" cy="358.5" r="1"/><circle cx="358.1" cy="363.4" r="1"/><circle cx="355" cy="368.3" r="1"/><circle cx="356.4" cy="374.4" r="1"/><circle cx="361.8" cy="376.8" r="1"/><circle cx="365.5" cy="380.5" r="1"/><circle cx="370.4" cy="378.1" r="1"/><circle cx="375.3" cy="381.7" r="1"/><circle cx="380.2" cy="378.8" r="1"/><circle cx="385.1" cy="382.2" r="1"/><circle cx="390" cy="379.3" r="1"/></g><circle cx="376.7" cy="353.9" r="1.5" fill="#a79d99"/><circle cx="373" cy="357.6" r="1.5" fill="#a79d99"/><circle cx="364.5" cy="356.3" r="1.5" fill="#a79d99"/><circle cx="359.6" cy="358.8" r="1.5" fill="#a79d99"/><circle cx="391.9" cy="373.5" r="1.6" fill="#b3bab0"/><circle cx="391.6" cy="373.1" r="0.7" fill="#d5d9d3"/><circle cx="390.5" cy="370.6" r="1.3" fill="#1616a6"/><circle cx="397.2" cy="371" r="1.3" fill="#1616a6"/></g>
<path d="M459.9 353.9L479.4 382" stroke="#565c5b" stroke-width="2.4" stroke-dasharray="3.2 3"/>
<path d="M82 388.8L81.8 389.7L81.6 390.5L81.7 391.2L81.9 391.8L82.3 392.2L83 392.6L83.8 392.8L84.6 393L85.5 393.1L86.3 393.4L87 393.7L87.4 394.1L87.6 394.7L87.6 395.4L87.5 396.2L87.3 397.1L87.1 398L86.9 398.8L87 399.5L87.2 400.1L87.6 400.6L88.3 400.9L89.1 401.1L89.9 401.3L90.8 401.4L91.6 401.7L92.3 402L92.7 402.4L92.9 403L92.9 403.7L92.8 404.6L92.6 405.4M82 388.8L82.9 389L83.7 389.2L84.3 389.5L84.8 390L85 390.6L85 391.3L84.9 392.1L84.6 393L84.4 393.8L84.3 394.6L84.3 395.4L84.5 395.9L85 396.4L85.6 396.7L86.4 396.9L87.3 397.1L88.2 397.3L89 397.5L89.6 397.8L90 398.3L90.3 398.9L90.3 399.6L90.2 400.4L89.9 401.3L89.7 402.1L89.6 403L89.6 403.7L89.8 404.3L90.3 404.7L90.9 405L91.7 405.3L92.6 405.4" fill="none" stroke="#161616" stroke-width="1.5" stroke-linejoin="round"/><path d="M92.6 405.4L94.6 408.6" stroke="#161616" stroke-width="1.5"/><path d="M82 388.8L79.4 388.5" stroke="#161616" stroke-width="1.1"/><path d="M82 388.8L82.8 386.3" stroke="#161616" stroke-width="1.1"/><path d="M94.6 408.6L92.3 411" stroke="#161616" stroke-width="1.3"/><path d="M94.6 408.6L98.8 408.5" stroke="#161616" stroke-width="1.3"/><g transform="translate(90 413.3) rotate(-20)" stroke="#e0121c"><ellipse rx="5.7" ry="3.4" stroke-width="1.5" fill="#f59a97"/><ellipse rx="2.9" ry="1.4" fill="#f9c4c0" stroke-width="1.1"/></g><g transform="translate(103 408.4) rotate(-10)" stroke="#e0121c"><ellipse rx="5.7" ry="3.4" stroke-width="1.5" fill="#f59a97"/><ellipse rx="2.9" ry="1.4" fill="#f9c4c0" stroke-width="1.1"/></g>
<path d="M364.5 404L365.1 404.1L365.8 404.4L366.4 404.9L367.1 405.4L367.7 405.3L368.2 405L368.8 404.4L369.3 403.8L369.8 403L370.3 402.3L370.8 401.7L371.3 401.3L371.9 401.1L372.5 401.1L373.1 401.4L373.8 401.8L374.5 402.3L375.1 402.9L375.8 403.4L376.5 403.7L377.1 403.9L377.7 403.9L378.2 403.6L378.8 403.2L379.3 402.6L379.8 401.8L380.3 401.1L380.8 400.5L381.3 400L381.9 399.7L382.5 399.6L383.1 399.8L383.7 400.1L384.4 400.6L385.1 401.2L385.8 401.7L386.4 402.1L387.1 402.4L387.7 402.5L388.2 402.3M364.5 404L365 404.5L365.6 404.7L366.2 404.7L366.9 404.3L367.6 403.8L368.3 403.4L368.9 403.2L369.5 403.2L370.1 403.4L370.6 403.8L371.1 404.4L371.6 405.1L372.1 405.9L372.5 406.6L373 407.1L373.6 407.5L374.1 407.7L374.8 407.7L375.4 407.4L376.1 407L376.8 406.5L377.5 406L378.2 405.5L378.9 405.2L379.5 405.1L380.1 405.3L380.7 405.6L381.2 406.2L381.6 406.8L382.1 407.6L382.6 408.3L383.1 408.9L383.6 409.4L384.1 409.7L384.7 409.7L385.4 409.5L386.1 409.2L386.8 408.7L387.5 408.2L388.2 407.7" fill="none" stroke="#161616" stroke-width="1.6" stroke-linejoin="round" stroke-linecap="round"/>
<g transform="translate(362.5 397.4) rotate(68)"><ellipse rx="5.6" ry="3" stroke-width="1.4" fill="#ee4044" stroke="#e0121c"/><ellipse rx="2.9" ry="1.2" fill="none" stroke="#fbd3cf" stroke-width="0.9"/></g>
<g transform="translate(356.8 410) rotate(-45)"><ellipse rx="5.8" ry="3.1" stroke-width="1.4" fill="#ee4044" stroke="#e0121c"/><ellipse rx="3" ry="1.2" fill="none" stroke="#fbd3cf" stroke-width="0.9"/></g>
<path d="M20 422.7H654" stroke="#141414" stroke-width="2" stroke-dasharray="7.4 3"/>
<path d="M57.7 543.4L58.7 541L59.7 538.6L60.6 536.2L61.6 533.6L62.6 531.1L63.6 528.3L64.5 525.6L65.5 522.8L66.5 520.2L67.5 517.7L68.4 515.3L69.4 513L70.4 510.8L71.4 508.7L72.3 506.8L73.3 505L74.3 503.4L75.3 501.9L76.2 500.4L77.2 499.2L78.2 498.1L79.2 497.1L80.1 496.1L81.1 495.3L82.1 494.5L83.1 493.9L84 493.4L85 492.9L86 492.5L87 492.2L87.9 492.1L88.9 492.1L89.9 492.3L90.9 492.5L91.8 492.7L92.8 493L93.8 493.2L94.8 493.6L95.7 494.2L96.7 494.9L97.7 495.6L98.7 496.4L99.6 497.3L100.6 498L101.6 498.8L102.6 499.6L103.5 500.4L104.5 501.3L105.5 502.2L106.5 503.1L107.4 504L108.4 505L109.4 506.1L110.4 507.1L111.3 508.2L112.3 509.4L113.3 510.5L114.3 511.7L115.2 512.9L116.2 514.1L117.2 515.4L118.2 516.6L119.1 517.9L120.1 519.2L121.1 520.4L122.1 521.6L123 522.8L124 523.9L125 525.1L126 526.3L126.9 527.6L127.9 528.9L128.9 530.1L129.9 531.3L130.8 532.4L131.8 533.3L132.8 534.2L133.8 535.1L134.8 535.9L135.7 536.6L136.7 537.3L137.7 538L138.7 538.6L139.6 539.2L140.6 539.7L141.6 540.3L142.6 540.8L143.5 541.3L144.5 541.8L145.5 542.2L146.5 542.7L147.4 543L148.4 543.4L149.4 543.7L150.4 544L151.3 544.3L152.3 544.5L153.3 544.8L154.3 545.1L155.2 545.3L156.2 545.6L157.2 545.8L158.2 546.1L159.1 546.3L160.1 546.5L161.1 546.6L162.1 546.8L163 547L164 547.1L165 547.3L166 547.4L166.9 547.5L167.9 547.6L168.9 547.7L169.9 547.9L170.8 548L171.8 548.1L172.8 548.2L173.8 548.3L174.7 548.3L175.7 548.4L176.7 548.5L177.7 548.6L178.6 548.7L179.6 548.8L180.6 548.8L181.6 548.9L182.5 549L183.5 549L184.5 549.1L185.5 549.2L186.4 549.2L187.4 549.3L188.4 549.3L189.4 549.4L190.3 549.4L191.3 549.5L192.3 549.5L193.3 549.5L194.2 549.6L195.2 549.6L196.2 549.6L197.2 549.6L198.1 549.7L199.1 549.7L200.1 549.7L201.1 549.7" fill="none" stroke="#8d8d8d" stroke-width="3" stroke-linejoin="round" stroke-linecap="round"/><path d="M57.7 543.4L58.7 541L59.7 538.6L60.6 536.2L61.6 533.6L62.6 531.1L63.6 528.3L64.5 525.6L65.5 522.8L66.5 520.2L67.5 517.7L68.4 515.3L69.4 513L70.4 510.8L71.4 508.7L72.3 506.8L73.3 505L74.3 503.4L75.3 501.9L76.2 500.4L77.2 499.2L78.2 498.1L79.2 497.1L80.1 496.1L81.1 495.3L82.1 494.5L83.1 493.9L84 493.4L85 492.9L86 492.5L87 492.2L87.9 492.1L88.9 492.1L89.9 492.3L90.9 492.5L91.8 492.7L92.8 493L93.8 493.2L94.8 493.6L95.7 494.2L96.7 494.9L97.7 495.6L98.7 496.4L99.6 497.3L100.6 498L101.6 498.8L102.6 499.6L103.5 500.4L104.5 501.3L105.5 502.2L106.5 503.1L107.4 504L108.4 505L109.4 506.1L110.4 507.1L111.3 508.2L112.3 509.4L113.3 510.5L114.3 511.7L115.2 512.9L116.2 514.1L117.2 515.4L118.2 516.6L119.1 517.9L120.1 519.2L121.1 520.4L122.1 521.6L123 522.8L124 523.9L125 525.1L126 526.3L126.9 527.6L127.9 528.9L128.9 530.1L129.9 531.3L130.8 532.4L131.8 533.3L132.8 534.2L133.8 535.1L134.8 535.9L135.7 536.6L136.7 537.3L137.7 538L138.7 538.6L139.6 539.2L140.6 539.7L141.6 540.3L142.6 540.8L143.5 541.3L144.5 541.8L145.5 542.2L146.5 542.7L147.4 543L148.4 543.4L149.4 543.7L150.4 544L151.3 544.3L152.3 544.5L153.3 544.8L154.3 545.1L155.2 545.3L156.2 545.6L157.2 545.8L158.2 546.1L159.1 546.3L160.1 546.5L161.1 546.6L162.1 546.8L163 547L164 547.1L165 547.3L166 547.4L166.9 547.5L167.9 547.6L168.9 547.7L169.9 547.9L170.8 548L171.8 548.1L172.8 548.2L173.8 548.3L174.7 548.3L175.7 548.4L176.7 548.5L177.7 548.6L178.6 548.7L179.6 548.8L180.6 548.8L181.6 548.9L182.5 549L183.5 549L184.5 549.1L185.5 549.2L186.4 549.2L187.4 549.3L188.4 549.3L189.4 549.4L190.3 549.4L191.3 549.5L192.3 549.5L193.3 549.5L194.2 549.6L195.2 549.6L196.2 549.6L197.2 549.6L198.1 549.7L199.1 549.7L200.1 549.7L201.1 549.7" fill="none" stroke="#c4c4c4" stroke-width="0.9" stroke-linejoin="round" stroke-linecap="round" stroke-opacity="0.75" transform="translate(-0.2 -0.4)"/><path d="M57.7 548L58.7 546.1L59.7 544L60.6 541.8L61.6 539.6L62.6 537.3L63.6 534.9L64.5 532.3L65.5 529.6L66.5 526.8L67.5 524.1L68.4 521.5L69.4 519L70.4 516.5L71.4 514L72.3 511.7L73.3 509.5L74.3 507.6L75.3 505.8L76.2 504L77.2 502.4L78.2 501L79.2 499.7L80.1 498.5L81.1 497.4L82.1 496.4L83.1 495.5L84 494.7L85 494.1L86 493.6L87 493.1L87.9 492.7L88.9 492.4L89.9 492.3L90.9 492.2L91.8 492.2L92.8 492.1L93.8 492.1L94.8 492.1L95.7 492.1L96.7 492.3L97.7 492.6L98.7 492.9L99.6 493.4L100.6 493.8L101.6 494.3L102.6 494.8L103.5 495.5L104.5 496.2L105.5 497L106.5 497.9L107.4 498.8L108.4 499.7L109.4 500.6L110.4 501.6L111.3 502.7L112.3 503.8L113.3 504.9L114.3 506L115.2 507.1L116.2 508.2L117.2 509.3L118.2 510.3L119.1 511.4L120.1 512.4L121.1 513.5L122.1 514.6L123 515.6L124 516.7L125 517.8L126 518.9L126.9 520L127.9 521.1L128.9 522.2L129.9 523.3L130.8 524.4L131.8 525.6L132.8 526.7L133.8 527.8L134.8 528.9L135.7 530L136.7 530.9L137.7 531.8L138.7 532.6L139.6 533.4L140.6 534.2L141.6 535L142.6 535.8L143.5 536.6L144.5 537.4L145.5 538.1L146.5 538.7L147.4 539.3L148.4 539.8L149.4 540.3L150.4 540.7L151.3 541.2L152.3 541.6L153.3 542L154.3 542.4L155.2 542.8L156.2 543.1L157.2 543.5L158.2 543.8L159.1 544.1L160.1 544.4L161.1 544.7L162.1 544.9L163 545.1L164 545.3L165 545.5L166 545.7L166.9 545.9L167.9 546.1L168.9 546.2L169.9 546.4L170.8 546.6L171.8 546.7L172.8 546.9L173.8 547L174.7 547.1L175.7 547.3L176.7 547.4L177.7 547.5L178.6 547.6L179.6 547.8L180.6 547.9L181.6 548L182.5 548.1L183.5 548.2L184.5 548.3L185.5 548.4L186.4 548.4L187.4 548.5L188.4 548.6L189.4 548.7L190.3 548.8L191.3 548.8L192.3 548.9L193.3 549L194.2 549.1L195.2 549.1L196.2 549.2L197.2 549.3L198.1 549.3L199.1 549.4L200.1 549.4L201.1 549.5" fill="none" stroke="#c3b6e3" stroke-width="3" stroke-linejoin="round" stroke-linecap="round"/><path d="M57.7 548L58.7 546.1L59.7 544L60.6 541.8L61.6 539.6L62.6 537.3L63.6 534.9L64.5 532.3L65.5 529.6L66.5 526.8L67.5 524.1L68.4 521.5L69.4 519L70.4 516.5L71.4 514L72.3 511.7L73.3 509.5L74.3 507.6L75.3 505.8L76.2 504L77.2 502.4L78.2 501L79.2 499.7L80.1 498.5L81.1 497.4L82.1 496.4L83.1 495.5L84 494.7L85 494.1L86 493.6L87 493.1L87.9 492.7L88.9 492.4L89.9 492.3L90.9 492.2L91.8 492.2L92.8 492.1L93.8 492.1L94.8 492.1L95.7 492.1L96.7 492.3L97.7 492.6L98.7 492.9L99.6 493.4L100.6 493.8L101.6 494.3L102.6 494.8L103.5 495.5L104.5 496.2L105.5 497L106.5 497.9L107.4 498.8L108.4 499.7L109.4 500.6L110.4 501.6L111.3 502.7L112.3 503.8L113.3 504.9L114.3 506L115.2 507.1L116.2 508.2L117.2 509.3L118.2 510.3L119.1 511.4L120.1 512.4L121.1 513.5L122.1 514.6L123 515.6L124 516.7L125 517.8L126 518.9L126.9 520L127.9 521.1L128.9 522.2L129.9 523.3L130.8 524.4L131.8 525.6L132.8 526.7L133.8 527.8L134.8 528.9L135.7 530L136.7 530.9L137.7 531.8L138.7 532.6L139.6 533.4L140.6 534.2L141.6 535L142.6 535.8L143.5 536.6L144.5 537.4L145.5 538.1L146.5 538.7L147.4 539.3L148.4 539.8L149.4 540.3L150.4 540.7L151.3 541.2L152.3 541.6L153.3 542L154.3 542.4L155.2 542.8L156.2 543.1L157.2 543.5L158.2 543.8L159.1 544.1L160.1 544.4L161.1 544.7L162.1 544.9L163 545.1L164 545.3L165 545.5L166 545.7L166.9 545.9L167.9 546.1L168.9 546.2L169.9 546.4L170.8 546.6L171.8 546.7L172.8 546.9L173.8 547L174.7 547.1L175.7 547.3L176.7 547.4L177.7 547.5L178.6 547.6L179.6 547.8L180.6 547.9L181.6 548L182.5 548.1L183.5 548.2L184.5 548.3L185.5 548.4L186.4 548.4L187.4 548.5L188.4 548.6L189.4 548.7L190.3 548.8L191.3 548.8L192.3 548.9L193.3 549L194.2 549.1L195.2 549.1L196.2 549.2L197.2 549.3L198.1 549.3L199.1 549.4L200.1 549.4L201.1 549.5" fill="none" stroke="#dbd2f0" stroke-width="0.9" stroke-linejoin="round" stroke-linecap="round" stroke-opacity="0.75" transform="translate(-0.2 -0.4)"/><path d="M57.7 550.6L58.7 549.8L59.7 549L60.6 548.3L61.6 547.6L62.6 546.9L63.6 546.2L64.5 545.6L65.5 545L66.5 544.5L67.5 544.2L68.4 543.8L69.4 543.5L70.4 543.1L71.4 542.6L72.3 542.1L73.3 541.3L74.3 540.5L75.3 539.5L76.2 538.2L77.2 536.6L78.2 534.8L79.2 532.8L80.1 531L81.1 529.2L82.1 527.3L83.1 525.5L84 523.7L85 521.9L86 520.1L87 518.4L87.9 516.6L88.9 514.9L89.9 513.4L90.9 512L91.8 511L92.8 509.9L93.8 509.1L94.8 508.4L95.7 508.1L96.7 508L97.7 507.8L98.7 507.7L99.6 507.5L100.6 507.1L101.6 506.5L102.6 505.8L103.5 505L104.5 504.2L105.5 503.3L106.5 502.2L107.4 501L108.4 499.9L109.4 498.8L110.4 497.9L111.3 497L112.3 496.1L113.3 495.3L114.3 494.7L115.2 494.1L116.2 493.7L117.2 493.2L118.2 492.8L119.1 492.5L120.1 492.4L121.1 492.4L122.1 492.5L123 492.6L124 492.7L125 492.9L126 493.1L126.9 493.4L127.9 493.8L128.9 494.2L129.9 494.7L130.8 495.2L131.8 495.7L132.8 496.2L133.8 496.7L134.8 497.1L135.7 497.5L136.7 498L137.7 498.4L138.7 498.9L139.6 499.5L140.6 500.2L141.6 500.9L142.6 501.8L143.5 502.7L144.5 503.7L145.5 504.6L146.5 505.6L147.4 506.5L148.4 507.5L149.4 508.5L150.4 509.6L151.3 510.5L152.3 511.5L153.3 512.4L154.3 513.2L155.2 514.1L156.2 514.9L157.2 515.6L158.2 516.4L159.1 517.1L160.1 517.8L161.1 518.4L162.1 519.1L163 519.7L164 520.3L165 520.8L166 521.4L166.9 521.8L167.9 522.3L168.9 522.7L169.9 523L170.8 523.4L171.8 523.7L172.8 524.1L173.8 524.4L174.7 524.8L175.7 525.1L176.7 525.4L177.7 525.7L178.6 526L179.6 526.3L180.6 526.7L181.6 527L182.5 527.3L183.5 527.6L184.5 527.9L185.5 528.3L186.4 528.6L187.4 528.9L188.4 529.3L189.4 529.6L190.3 530L191.3 530.4L192.3 530.8L193.3 531.2L194.2 531.6L195.2 532L196.2 532.4L197.2 532.7L198.1 533.1L199.1 533.4L200.1 533.8L201.1 534.1" fill="none" stroke="#7d4fc2" stroke-width="3" stroke-linejoin="round" stroke-linecap="round"/><path d="M57.7 550.6L58.7 549.8L59.7 549L60.6 548.3L61.6 547.6L62.6 546.9L63.6 546.2L64.5 545.6L65.5 545L66.5 544.5L67.5 544.2L68.4 543.8L69.4 543.5L70.4 543.1L71.4 542.6L72.3 542.1L73.3 541.3L74.3 540.5L75.3 539.5L76.2 538.2L77.2 536.6L78.2 534.8L79.2 532.8L80.1 531L81.1 529.2L82.1 527.3L83.1 525.5L84 523.7L85 521.9L86 520.1L87 518.4L87.9 516.6L88.9 514.9L89.9 513.4L90.9 512L91.8 511L92.8 509.9L93.8 509.1L94.8 508.4L95.7 508.1L96.7 508L97.7 507.8L98.7 507.7L99.6 507.5L100.6 507.1L101.6 506.5L102.6 505.8L103.5 505L104.5 504.2L105.5 503.3L106.5 502.2L107.4 501L108.4 499.9L109.4 498.8L110.4 497.9L111.3 497L112.3 496.1L113.3 495.3L114.3 494.7L115.2 494.1L116.2 493.7L117.2 493.2L118.2 492.8L119.1 492.5L120.1 492.4L121.1 492.4L122.1 492.5L123 492.6L124 492.7L125 492.9L126 493.1L126.9 493.4L127.9 493.8L128.9 494.2L129.9 494.7L130.8 495.2L131.8 495.7L132.8 496.2L133.8 496.7L134.8 497.1L135.7 497.5L136.7 498L137.7 498.4L138.7 498.9L139.6 499.5L140.6 500.2L141.6 500.9L142.6 501.8L143.5 502.7L144.5 503.7L145.5 504.6L146.5 505.6L147.4 506.5L148.4 507.5L149.4 508.5L150.4 509.6L151.3 510.5L152.3 511.5L153.3 512.4L154.3 513.2L155.2 514.1L156.2 514.9L157.2 515.6L158.2 516.4L159.1 517.1L160.1 517.8L161.1 518.4L162.1 519.1L163 519.7L164 520.3L165 520.8L166 521.4L166.9 521.8L167.9 522.3L168.9 522.7L169.9 523L170.8 523.4L171.8 523.7L172.8 524.1L173.8 524.4L174.7 524.8L175.7 525.1L176.7 525.4L177.7 525.7L178.6 526L179.6 526.3L180.6 526.7L181.6 527L182.5 527.3L183.5 527.6L184.5 527.9L185.5 528.3L186.4 528.6L187.4 528.9L188.4 529.3L189.4 529.6L190.3 530L191.3 530.4L192.3 530.8L193.3 531.2L194.2 531.6L195.2 532L196.2 532.4L197.2 532.7L198.1 533.1L199.1 533.4L200.1 533.8L201.1 534.1" fill="none" stroke="#b296e2" stroke-width="0.9" stroke-linejoin="round" stroke-linecap="round" stroke-opacity="0.75" transform="translate(-0.2 -0.4)"/><rect x="53.3" y="434" width="151.2" height="121.9" fill="none" stroke="#141414" stroke-width="1.5"/><path d="M53.3 550h-3M53.3 521h-3M53.3 492.1h-3M53.3 463.1h-3M53.3 434.2h-3M57.7 555.9v3M106.8 555.9v3M155.9 555.9v3M205 555.9v3" stroke="#141414" stroke-width="1.3"/><g font-family="Liberation Sans, sans-serif" font-weight="bold" fill="#1a1a1a"><text x="48.3" y="552.7" font-size="7.5" text-anchor="end" >0.0</text><text x="48.3" y="523.8" font-size="7.5" text-anchor="end" >0.5</text><text x="48.3" y="494.8" font-size="7.5" text-anchor="end" >1.0</text><text x="48.3" y="465.8" font-size="7.5" text-anchor="end" >1.5</text><text x="48.3" y="436.9" font-size="7.5" text-anchor="end" >2.0</text><text x="57.7" y="566.8" font-size="7.4" text-anchor="middle" >305</text><text x="106.8" y="566.8" font-size="7.4" text-anchor="middle" >355</text><text x="155.9" y="566.8" font-size="7.4" text-anchor="middle" >405</text><text x="205" y="566.8" font-size="7.4" text-anchor="middle" >455</text><text x="128.8" y="577.8" font-size="9.2" text-anchor="middle" >Wavelength (nm)</text><text transform="translate(32.2 494.3) rotate(-90)" font-size="8.7" text-anchor="middle">Normalized fluorescence (A.U.)</text><text x="206.5" y="554" font-size="15.5" text-anchor="start" >(c)</text><circle cx="139.8" cy="441.6" r="2.6" fill="#8f8f8f"/><circle cx="139.2" cy="440.9" r="1.1" fill="#d5d5d5"/><text x="148.3" y="444.6" font-size="8.5" text-anchor="start" >Native MP</text><circle cx="139.8" cy="452.3" r="2.6" fill="#bdb0e0"/><circle cx="139.2" cy="451.6" r="1.1" fill="#eeeaf8"/><text x="148.3" y="455.3" font-size="8.5" text-anchor="start" >MP-DD@OA</text><circle cx="139.8" cy="463" r="2.6" fill="#6a3cb0"/><circle cx="139.2" cy="462.3" r="1.1" fill="#b79be3"/><text x="148.3" y="466" font-size="8.5" text-anchor="start" >MP-DD@LNA</text><text x="72.1" y="468.4" font-size="7.95" text-anchor="start" >6.00±0.50 nm***</text><text x="97.2" y="481.8" font-size="7.95" text-anchor="start" >26.67±1.15 nm***</text></g><path d="M88 492V470.8M95.4 492V470.8M88 470.8H95.4M95.4 484.6H121.5M121.5 484.6V491.5" stroke="#e8807a" stroke-width="0.65" stroke-dasharray="1.3 1" fill="none"/><path d="M95.4 470.8l-2.4 -1.2v2.4zM121.5 484.6l-2.4 -1.2v2.4z" fill="#e8807a"/>
<path d="M260.1 549.1L260.7 547.9L261.3 546.6L261.9 545.2L262.5 543.8L263.1 542.2L263.7 540.5L264.3 538.6L264.8 536.6L265.4 534.6L266 532.5L266.6 530.4L267.2 528.2L267.8 526L268.4 523.8L269 521.5L269.6 519.2L270.2 517L270.8 514.9L271.3 512.9L271.9 510.9L272.5 509L273.1 507.1L273.7 505.4L274.3 503.8L274.9 502.3L275.5 501L276.1 499.7L276.7 498.4L277.3 497.3L277.8 496.3L278.4 495.5L279 494.9L279.6 494.4L280.2 493.9L280.8 493.4L281.4 493L282 492.6L282.6 492.4L283.2 492.2L283.8 492.2L284.4 492.2L284.9 492.1L285.5 492.1L286.1 492.1L286.7 492.1L287.3 492.2L287.9 492.3L288.5 492.6L289.1 492.9L289.7 493.2L290.3 493.6L290.9 494L291.4 494.4L292 495L292.6 495.6L293.2 496.3L293.8 497L294.4 497.7L295 498.4L295.6 499.2L296.2 500.1L296.8 500.9L297.4 501.8L297.9 502.7L298.5 503.7L299.1 504.6L299.7 505.6L300.3 506.7L300.9 507.7L301.5 508.8L302.1 509.8L302.7 510.8L303.3 511.8L303.9 512.9L304.4 513.9L305 514.9L305.6 515.9L306.2 516.8L306.8 517.8L307.4 518.7L308 519.6L308.6 520.5L309.2 521.4L309.8 522.3L310.4 523.1L311 523.9L311.5 524.7L312.1 525.5L312.7 526.3L313.3 527L313.9 527.7L314.5 528.4L315.1 529.1L315.7 529.8L316.3 530.5L316.9 531.1L317.5 531.8L318 532.4L318.6 533L319.2 533.6L319.8 534.2L320.4 534.7L321 535.3L321.6 535.8L322.2 536.2L322.8 536.7L323.4 537.1L324 537.6L324.5 538L325.1 538.4L325.7 538.8L326.3 539.1L326.9 539.5L327.5 539.8L328.1 540.1L328.7 540.5L329.3 540.8L329.9 541L330.5 541.3L331.1 541.6L331.6 541.8L332.2 542L332.8 542.2L333.4 542.4L334 542.6L334.6 542.8L335.2 543L335.8 543.2L336.4 543.4L337 543.5L337.6 543.7L338.1 543.8L338.7 544L339.3 544.1L339.9 544.3L340.5 544.4L341.1 544.6L341.7 544.7L342.3 544.9L342.9 545L343.5 545.1L344.1 545.3L344.6 545.4L345.2 545.5L345.8 545.6L346.4 545.7" fill="none" stroke="#8d8d8d" stroke-width="3" stroke-linejoin="round" stroke-linecap="round"/><path d="M260.1 549.1L260.7 547.9L261.3 546.6L261.9 545.2L262.5 543.8L263.1 542.2L263.7 540.5L264.3 538.6L264.8 536.6L265.4 534.6L266 532.5L266.6 530.4L267.2 528.2L267.8 526L268.4 523.8L269 521.5L269.6 519.2L270.2 517L270.8 514.9L271.3 512.9L271.9 510.9L272.5 509L273.1 507.1L273.7 505.4L274.3 503.8L274.9 502.3L275.5 501L276.1 499.7L276.7 498.4L277.3 497.3L277.8 496.3L278.4 495.5L279 494.9L279.6 494.4L280.2 493.9L280.8 493.4L281.4 493L282 492.6L282.6 492.4L283.2 492.2L283.8 492.2L284.4 492.2L284.9 492.1L285.5 492.1L286.1 492.1L286.7 492.1L287.3 492.2L287.9 492.3L288.5 492.6L289.1 492.9L289.7 493.2L290.3 493.6L290.9 494L291.4 494.4L292 495L292.6 495.6L293.2 496.3L293.8 497L294.4 497.7L295 498.4L295.6 499.2L296.2 500.1L296.8 500.9L297.4 501.8L297.9 502.7L298.5 503.7L299.1 504.6L299.7 505.6L300.3 506.7L300.9 507.7L301.5 508.8L302.1 509.8L302.7 510.8L303.3 511.8L303.9 512.9L304.4 513.9L305 514.9L305.6 515.9L306.2 516.8L306.8 517.8L307.4 518.7L308 519.6L308.6 520.5L309.2 521.4L309.8 522.3L310.4 523.1L311 523.9L311.5 524.7L312.1 525.5L312.7 526.3L313.3 527L313.9 527.7L314.5 528.4L315.1 529.1L315.7 529.8L316.3 530.5L316.9 531.1L317.5 531.8L318 532.4L318.6 533L319.2 533.6L319.8 534.2L320.4 534.7L321 535.3L321.6 535.8L322.2 536.2L322.8 536.7L323.4 537.1L324 537.6L324.5 538L325.1 538.4L325.7 538.8L326.3 539.1L326.9 539.5L327.5 539.8L328.1 540.1L328.7 540.5L329.3 540.8L329.9 541L330.5 541.3L331.1 541.6L331.6 541.8L332.2 542L332.8 542.2L333.4 542.4L334 542.6L334.6 542.8L335.2 543L335.8 543.2L336.4 543.4L337 543.5L337.6 543.7L338.1 543.8L338.7 544L339.3 544.1L339.9 544.3L340.5 544.4L341.1 544.6L341.7 544.7L342.3 544.9L342.9 545L343.5 545.1L344.1 545.3L344.6 545.4L345.2 545.5L345.8 545.6L346.4 545.7" fill="none" stroke="#c4c4c4" stroke-width="0.9" stroke-linejoin="round" stroke-linecap="round" stroke-opacity="0.75" transform="translate(-0.2 -0.4)"/><path d="M260.1 547.9L260.7 548.3L261.3 546.7L261.9 545.2L262.5 544.6L263.1 542.5L263.7 541L264.3 540.5L264.8 536.7L265.4 535L266 533.8L266.6 531.4L267.2 528.8L267.8 527.3L268.4 525.1L269 523.7L269.6 520.1L270.2 518.1L270.8 515.8L271.3 515L271.9 510.8L272.5 510.1L273.1 508.8L273.7 505.4L274.3 505.3L274.9 504.8L275.5 502.8L276.1 502.9L276.7 499.5L277.3 499.6L277.8 498.9L278.4 496.8L279 498L279.6 495.8L280.2 497.2L280.8 495.8L281.4 495.8L282 493.6L282.6 493.1L283.2 494.3L283.8 493.3L284.4 493.9L284.9 493.3L285.5 494.1L286.1 494.6L286.7 494.6L287.3 493.1L287.9 491.7L288.5 493.1L289.1 493.6L289.7 491.9L290.3 493.1L290.9 493.2L291.4 493.1L292 493.3L292.6 493.5L293.2 494.3L293.8 493L294.4 493.5L295 492.8L295.6 494.1L296.2 495.4L296.8 494.4L297.4 493.3L297.9 494.9L298.5 495.4L299.1 495.8L299.7 495.8L300.3 495.5L300.9 496.3L301.5 494.7L302.1 496.3L302.7 496.4L303.3 495.9L303.9 496.3L304.4 498.1L305 498.3L305.6 498.7L306.2 500.1L306.8 502L307.4 501L308 501.4L308.6 502.3L309.2 503.7L309.8 503.7L310.4 504.4L311 504.7L311.5 504.1L312.1 504.5L312.7 505.8L313.3 506.6L313.9 507.3L314.5 508.5L315.1 509.3L315.7 510.4L316.3 510.6L316.9 509.6L317.5 511.2L318 512.6L318.6 513.2L319.2 514.1L319.8 513.8L320.4 514.3L321 516.1L321.6 515.2L322.2 516.4L322.8 515.5L323.4 516.9L324 516.3L324.5 518.2L325.1 518.5L325.7 518.5L326.3 518.4L326.9 519.1L327.5 520.8L328.1 520.2L328.7 520.6L329.3 521.3L329.9 521.8L330.5 520.5L331.1 522.4L331.6 523.2L332.2 522.8L332.8 523.8L333.4 524.7L334 524.8L334.6 525.7L335.2 526.2L335.8 526.2L336.4 527L337 528L337.6 528.1L338.1 528.5L338.7 528.3L339.3 529.4L339.9 530.2L340.5 529.1L341.1 530.3L341.7 531L342.3 529.6L342.9 530.6L343.5 529.9L344.1 530.8L344.6 531.4L345.2 531.7L345.8 531.3L346.4 531.3" fill="none" stroke="#f5c58e" stroke-width="3" stroke-linejoin="round" stroke-linecap="round"/><path d="M260.1 547.9L260.7 548.3L261.3 546.7L261.9 545.2L262.5 544.6L263.1 542.5L263.7 541L264.3 540.5L264.8 536.7L265.4 535L266 533.8L266.6 531.4L267.2 528.8L267.8 527.3L268.4 525.1L269 523.7L269.6 520.1L270.2 518.1L270.8 515.8L271.3 515L271.9 510.8L272.5 510.1L273.1 508.8L273.7 505.4L274.3 505.3L274.9 504.8L275.5 502.8L276.1 502.9L276.7 499.5L277.3 499.6L277.8 498.9L278.4 496.8L279 498L279.6 495.8L280.2 497.2L280.8 495.8L281.4 495.8L282 493.6L282.6 493.1L283.2 494.3L283.8 493.3L284.4 493.9L284.9 493.3L285.5 494.1L286.1 494.6L286.7 494.6L287.3 493.1L287.9 491.7L288.5 493.1L289.1 493.6L289.7 491.9L290.3 493.1L290.9 493.2L291.4 493.1L292 493.3L292.6 493.5L293.2 494.3L293.8 493L294.4 493.5L295 492.8L295.6 494.1L296.2 495.4L296.8 494.4L297.4 493.3L297.9 494.9L298.5 495.4L299.1 495.8L299.7 495.8L300.3 495.5L300.9 496.3L301.5 494.7L302.1 496.3L302.7 496.4L303.3 495.9L303.9 496.3L304.4 498.1L305 498.3L305.6 498.7L306.2 500.1L306.8 502L307.4 501L308 501.4L308.6 502.3L309.2 503.7L309.8 503.7L310.4 504.4L311 504.7L311.5 504.1L312.1 504.5L312.7 505.8L313.3 506.6L313.9 507.3L314.5 508.5L315.1 509.3L315.7 510.4L316.3 510.6L316.9 509.6L317.5 511.2L318 512.6L318.6 513.2L319.2 514.1L319.8 513.8L320.4 514.3L321 516.1L321.6 515.2L322.2 516.4L322.8 515.5L323.4 516.9L324 516.3L324.5 518.2L325.1 518.5L325.7 518.5L326.3 518.4L326.9 519.1L327.5 520.8L328.1 520.2L328.7 520.6L329.3 521.3L329.9 521.8L330.5 520.5L331.1 522.4L331.6 523.2L332.2 522.8L332.8 523.8L333.4 524.7L334 524.8L334.6 525.7L335.2 526.2L335.8 526.2L336.4 527L337 528L337.6 528.1L338.1 528.5L338.7 528.3L339.3 529.4L339.9 530.2L340.5 529.1L341.1 530.3L341.7 531L342.3 529.6L342.9 530.6L343.5 529.9L344.1 530.8L344.6 531.4L345.2 531.7L345.8 531.3L346.4 531.3" fill="none" stroke="#f9dab5" stroke-width="0.9" stroke-linejoin="round" stroke-linecap="round" stroke-opacity="0.75" transform="translate(-0.2 -0.4)"/><path d="M260.1 548.3L260.7 549.1L261.3 548.7L261.9 548.3L262.5 548.7L263.1 548.1L263.7 547.9L264.3 548.5L264.9 547L265.5 547L266.1 547.4L266.7 547L267.2 546.5L267.8 546.6L268.4 546.3L269 546.6L269.6 545.4L270.2 545.3L270.8 544.9L271.4 545.3L272 543.4L272.6 543.6L273.2 543.4L273.8 541.8L274.4 542.3L275 542.4L275.6 541.4L276.2 541.6L276.8 539.5L277.3 539.7L277.9 539.5L278.5 538.4L279.1 539.5L279.7 538.3L280.3 539.3L280.9 538.5L281.5 538.6L282.1 537.3L282.7 537L283.3 537.9L283.9 537.3L284.5 537.7L285.1 537.2L285.7 537.8L286.3 538.1L286.9 538L287.5 536.9L288 535.7L288.6 536.3L289.2 536.1L289.8 534.4L290.4 534.5L291 534L291.6 533.3L292.2 532.9L292.8 532.4L293.4 532.4L294 530.9L294.6 530.6L295.2 529.4L295.8 529.5L296.4 529.6L297 528.1L297.6 526.6L298.2 526.8L298.7 526.3L299.3 525.6L299.9 524.7L300.5 523.5L301.1 523L301.7 520.9L302.3 520.7L302.9 519.5L303.5 517.9L304.1 516.8L304.7 516.6L305.3 515.4L305.9 514.2L306.5 513.8L307.1 513.6L307.7 511.6L308.3 510.6L308.8 509.9L309.4 509.7L310 508.5L310.6 507.9L311.2 506.9L311.8 505.4L312.4 504.5L313 504.2L313.6 503.5L314.2 502.6L314.8 502.2L315.4 501.5L316 501.1L316.6 500.2L317.2 498.5L317.8 498.6L318.4 498.6L319 498.2L319.5 497.9L320.1 496.8L320.7 496.4L321.3 496.9L321.9 495.6L322.5 495.8L323.1 494.5L323.7 494.8L324.3 493.8L324.9 494.5L325.5 494.2L326.1 493.7L326.7 493.2L327.3 493.2L327.9 493.8L328.5 493L329.1 492.9L329.6 492.9L330.2 492.9L330.8 491.7L331.4 492.7L332 492.9L332.6 492.3L333.2 492.7L333.8 492.9L334.4 492.7L335 493L335.6 493.2L336.2 493.2L336.8 493.8L337.4 494.5L338 494.8L338.6 495.2L339.2 495.3L339.8 496.3L340.3 497.1L340.9 496.9L341.5 498.2L342.1 499.2L342.7 498.9L343.3 500.2L343.9 500.3L344.5 501.5L345.1 502.5L345.7 503.2L346.3 503.6L346.9 504.2L347.5 505.1L348.1 505.5L348.7 506.7L349.3 506.7L349.9 508.1L350.5 507.9L351 508L351.6 508.3L352.2 508.6L352.8 510.6L353.4 510L354 510.3L354.6 510.9L355.2 512.4L355.8 512.3L356.4 512.2L357 514.4L357.6 514.1L358.2 514.5L358.8 516.1L359.4 516.5L360 518.4L360.6 519.4L361.1 520.5L361.7 521L362.3 522L362.9 522.4L363.5 524.1L364.1 524.5L364.7 524.8L365.3 525.7L365.9 527.3L366.5 527.1L367.1 528.4L367.7 528.7L368.3 529.5L368.9 529.7L369.5 530.9L370.1 532.4L370.7 532.7L371.3 532.3L371.8 533.3L372.4 533.1L373 534L373.6 535L374.2 534.6L374.8 536L375.4 537L376 535.6L376.6 537.9L377.2 537.2L377.8 537.5L378.4 538.3L379 539.6L379.6 538.8L380.2 540.3L380.8 540.7L381.4 540.6L381.9 540.5L382.5 541.1L383.1 541.2L383.7 542.1L384.3 542.4L384.9 543.2L385.5 543.1L386.1 543L386.7 543.7L387.3 543.7L387.9 544.5L388.5 544.8L389.1 544.8L389.7 545.2L390.3 545.1L390.9 545.6L391.5 545.1L392.1 546.2L392.6 546.5L393.2 547.1L393.8 546.8L394.4 546.7L395 547.6L395.6 547.5L396.2 547.3L396.8 547.9L397.4 548.3L398 547.7L398.6 548.3L399.2 548.3L399.8 548.1L400.4 548.3L401 549.1L401.6 549.3L402.2 549L402.8 549.3L403.3 550.2L403.9 548.9L404.5 549.5L405.1 549.3L405.7 550.2L406.3 549.1" fill="none" stroke="#d56b20" stroke-width="3" stroke-linejoin="round" stroke-linecap="round"/><path d="M260.1 548.3L260.7 549.1L261.3 548.7L261.9 548.3L262.5 548.7L263.1 548.1L263.7 547.9L264.3 548.5L264.9 547L265.5 547L266.1 547.4L266.7 547L267.2 546.5L267.8 546.6L268.4 546.3L269 546.6L269.6 545.4L270.2 545.3L270.8 544.9L271.4 545.3L272 543.4L272.6 543.6L273.2 543.4L273.8 541.8L274.4 542.3L275 542.4L275.6 541.4L276.2 541.6L276.8 539.5L277.3 539.7L277.9 539.5L278.5 538.4L279.1 539.5L279.7 538.3L280.3 539.3L280.9 538.5L281.5 538.6L282.1 537.3L282.7 537L283.3 537.9L283.9 537.3L284.5 537.7L285.1 537.2L285.7 537.8L286.3 538.1L286.9 538L287.5 536.9L288 535.7L288.6 536.3L289.2 536.1L289.8 534.4L290.4 534.5L291 534L291.6 533.3L292.2 532.9L292.8 532.4L293.4 532.4L294 530.9L294.6 530.6L295.2 529.4L295.8 529.5L296.4 529.6L297 528.1L297.6 526.6L298.2 526.8L298.7 526.3L299.3 525.6L299.9 524.7L300.5 523.5L301.1 523L301.7 520.9L302.3 520.7L302.9 519.5L303.5 517.9L304.1 516.8L304.7 516.6L305.3 515.4L305.9 514.2L306.5 513.8L307.1 513.6L307.7 511.6L308.3 510.6L308.8 509.9L309.4 509.7L310 508.5L310.6 507.9L311.2 506.9L311.8 505.4L312.4 504.5L313 504.2L313.6 503.5L314.2 502.6L314.8 502.2L315.4 501.5L316 501.1L316.6 500.2L317.2 498.5L317.8 498.6L318.4 498.6L319 498.2L319.5 497.9L320.1 496.8L320.7 496.4L321.3 496.9L321.9 495.6L322.5 495.8L323.1 494.5L323.7 494.8L324.3 493.8L324.9 494.5L325.5 494.2L326.1 493.7L326.7 493.2L327.3 493.2L327.9 493.8L328.5 493L329.1 492.9L329.6 492.9L330.2 492.9L330.8 491.7L331.4 492.7L332 492.9L332.6 492.3L333.2 492.7L333.8 492.9L334.4 492.7L335 493L335.6 493.2L336.2 493.2L336.8 493.8L337.4 494.5L338 494.8L338.6 495.2L339.2 495.3L339.8 496.3L340.3 497.1L340.9 496.9L341.5 498.2L342.1 499.2L342.7 498.9L343.3 500.2L343.9 500.3L344.5 501.5L345.1 502.5L345.7 503.2L346.3 503.6L346.9 504.2L347.5 505.1L348.1 505.5L348.7 506.7L349.3 506.7L349.9 508.1L350.5 507.9L351 508L351.6 508.3L352.2 508.6L352.8 510.6L353.4 510L354 510.3L354.6 510.9L355.2 512.4L355.8 512.3L356.4 512.2L357 514.4L357.6 514.1L358.2 514.5L358.8 516.1L359.4 516.5L360 518.4L360.6 519.4L361.1 520.5L361.7 521L362.3 522L362.9 522.4L363.5 524.1L364.1 524.5L364.7 524.8L365.3 525.7L365.9 527.3L366.5 527.1L367.1 528.4L367.7 528.7L368.3 529.5L368.9 529.7L369.5 530.9L370.1 532.4L370.7 532.7L371.3 532.3L371.8 533.3L372.4 533.1L373 534L373.6 535L374.2 534.6L374.8 536L375.4 537L376 535.6L376.6 537.9L377.2 537.2L377.8 537.5L378.4 538.3L379 539.6L379.6 538.8L380.2 540.3L380.8 540.7L381.4 540.6L381.9 540.5L382.5 541.1L383.1 541.2L383.7 542.1L384.3 542.4L384.9 543.2L385.5 543.1L386.1 543L386.7 543.7L387.3 543.7L387.9 544.5L388.5 544.8L389.1 544.8L389.7 545.2L390.3 545.1L390.9 545.6L391.5 545.1L392.1 546.2L392.6 546.5L393.2 547.1L393.8 546.8L394.4 546.7L395 547.6L395.6 547.5L396.2 547.3L396.8 547.9L397.4 548.3L398 547.7L398.6 548.3L399.2 548.3L399.8 548.1L400.4 548.3L401 549.1L401.6 549.3L402.2 549L402.8 549.3L403.3 550.2L403.9 548.9L404.5 549.5L405.1 549.3L405.7 550.2L406.3 549.1" fill="none" stroke="#eea26a" stroke-width="0.9" stroke-linejoin="round" stroke-linecap="round" stroke-opacity="0.75" transform="translate(-0.2 -0.4)"/><rect x="257.4" y="434" width="151.8" height="121.9" fill="none" stroke="#141414" stroke-width="1.5"/><path d="M257.4 550h-3M257.4 521h-3M257.4 492.1h-3M257.4 463.1h-3M257.4 434.2h-3M257.2 555.9v3M286.9 555.9v3M316.7 555.9v3M346.4 555.9v3M376.2 555.9v3M405.9 555.9v3" stroke="#141414" stroke-width="1.3"/><g font-family="Liberation Sans, sans-serif" font-weight="bold" fill="#1a1a1a"><text x="252.4" y="552.7" font-size="7.5" text-anchor="end" >0.0</text><text x="252.4" y="523.8" font-size="7.5" text-anchor="end" >0.5</text><text x="252.4" y="494.8" font-size="7.5" text-anchor="end" >1.0</text><text x="252.4" y="465.8" font-size="7.5" text-anchor="end" >1.5</text><text x="252.4" y="436.9" font-size="7.5" text-anchor="end" >2.0</text><text x="257.2" y="566.8" font-size="7.4" text-anchor="middle" >300</text><text x="286.9" y="566.8" font-size="7.4" text-anchor="middle" >350</text><text x="316.7" y="566.8" font-size="7.4" text-anchor="middle" >400</text><text x="346.4" y="566.8" font-size="7.4" text-anchor="middle" >450</text><text x="376.2" y="566.8" font-size="7.4" text-anchor="middle" >500</text><text x="405.9" y="566.8" font-size="7.4" text-anchor="middle" >550</text><text x="333" y="577.8" font-size="9.2" text-anchor="middle" >Wavelength (nm)</text><text transform="translate(235.2 494.3) rotate(-90)" font-size="8.7" text-anchor="middle">Normalized fluorescence (A.U.)</text><text x="411.4" y="554" font-size="15.5" text-anchor="start" >(d)</text><circle cx="344.3" cy="441.6" r="2.6" fill="#8f8f8f"/><circle cx="343.7" cy="440.9" r="1.1" fill="#d5d5d5"/><text x="351.6" y="444.6" font-size="8.5" text-anchor="start" >Native WP</text><circle cx="344.3" cy="452.3" r="2.6" fill="#f5c58e"/><circle cx="343.7" cy="451.6" r="1.1" fill="#fcecd9"/><text x="351.6" y="455.3" font-size="8.5" text-anchor="start" >WP-DD@OA</text><circle cx="344.3" cy="463" r="2.6" fill="#cf6519"/><circle cx="343.7" cy="462.3" r="1.1" fill="#f0a56d"/><text x="351.6" y="466" font-size="8.5" text-anchor="start" >WP-DD@LNA</text><text x="271.6" y="468.4" font-size="7.95" text-anchor="start" >5.00±1.32 nm**</text><text x="295.4" y="481.8" font-size="7.95" text-anchor="start" >73.00±1.80 nm***</text></g><path d="M285.9 492V470.8M294.3 492V470.8M285.9 470.8H294.3M294.3 484.6H333.3M333.3 484.6V491.5" stroke="#e8807a" stroke-width="0.65" stroke-dasharray="1.3 1" fill="none"/><path d="M294.3 470.8l-2.4 -1.2v2.4zM333.3 484.6l-2.4 -1.2v2.4z" fill="#e8807a"/>
<path d="M465.9 549.7L466.5 548.7L467.1 547.5L467.7 546.3L468.3 544.9L468.9 543.4L469.5 541.9L470.1 540.1L470.7 538.1L471.3 536.1L471.9 533.9L472.4 531.8L473 529.7L473.6 527.6L474.2 525.6L474.8 523.5L475.4 521.4L476 519.3L476.6 517.3L477.2 515.3L477.8 513.5L478.4 511.6L479 509.8L479.5 507.9L480.1 506.2L480.7 504.5L481.3 503L481.9 501.7L482.5 500.5L483.1 499.3L483.7 498.2L484.3 497.2L484.9 496.3L485.5 495.6L486.1 495L486.6 494.4L487.2 493.9L487.8 493.5L488.4 493.1L489 492.8L489.6 492.6L490.2 492.4L490.8 492.3L491.4 492.3L492 492.2L492.6 492.1L493.2 492.1L493.7 492.1L494.3 492.2L494.9 492.3L495.5 492.6L496.1 492.9L496.7 493.2L497.3 493.6L497.9 493.9L498.5 494.4L499.1 495L499.7 495.8L500.2 496.5L500.8 497.3L501.4 498.1L502 498.9L502.6 499.7L503.2 500.6L503.8 501.5L504.4 502.4L505 503.4L505.6 504.3L506.2 505.3L506.8 506.2L507.3 507.2L507.9 508.2L508.5 509.3L509.1 510.3L509.7 511.3L510.3 512.4L510.9 513.4L511.5 514.5L512.1 515.6L512.7 516.7L513.3 517.8L513.9 518.8L514.4 519.8L515 520.9L515.6 521.9L516.2 522.8L516.8 523.8L517.4 524.8L518 525.7L518.6 526.7L519.2 527.6L519.8 528.5L520.4 529.4L521 530.3L521.5 531.1L522.1 531.8L522.7 532.5L523.3 533.2L523.9 533.9L524.5 534.6L525.1 535.2L525.7 535.8L526.3 536.4L526.9 537L527.5 537.6L528.1 538.2L528.6 538.8L529.2 539.3L529.8 539.9L530.4 540.4L531 540.9L531.6 541.3L532.2 541.7L532.8 542L533.4 542.4L534 542.7L534.6 542.9L535.2 543.2L535.7 543.5L536.3 543.7L536.9 544L537.5 544.2L538.1 544.5L538.7 544.7L539.3 545L539.9 545.3L540.5 545.6L541.1 545.8L541.7 546.1L542.3 546.3L542.8 546.6L543.4 546.8L544 547L544.6 547.2L545.2 547.4L545.8 547.6L546.4 547.8L547 547.9L547.6 548.1L548.2 548.3L548.8 548.4L549.4 548.6L549.9 548.7L550.5 548.9L551.1 549L551.7 549.1L552.3 549.3L552.9 549.4" fill="none" stroke="#8d8d8d" stroke-width="3" stroke-linejoin="round" stroke-linecap="round"/><path d="M465.9 549.7L466.5 548.7L467.1 547.5L467.7 546.3L468.3 544.9L468.9 543.4L469.5 541.9L470.1 540.1L470.7 538.1L471.3 536.1L471.9 533.9L472.4 531.8L473 529.7L473.6 527.6L474.2 525.6L474.8 523.5L475.4 521.4L476 519.3L476.6 517.3L477.2 515.3L477.8 513.5L478.4 511.6L479 509.8L479.5 507.9L480.1 506.2L480.7 504.5L481.3 503L481.9 501.7L482.5 500.5L483.1 499.3L483.7 498.2L484.3 497.2L484.9 496.3L485.5 495.6L486.1 495L486.6 494.4L487.2 493.9L487.8 493.5L488.4 493.1L489 492.8L489.6 492.6L490.2 492.4L490.8 492.3L491.4 492.3L492 492.2L492.6 492.1L493.2 492.1L493.7 492.1L494.3 492.2L494.9 492.3L495.5 492.6L496.1 492.9L496.7 493.2L497.3 493.6L497.9 493.9L498.5 494.4L499.1 495L499.7 495.8L500.2 496.5L500.8 497.3L501.4 498.1L502 498.9L502.6 499.7L503.2 500.6L503.8 501.5L504.4 502.4L505 503.4L505.6 504.3L506.2 505.3L506.8 506.2L507.3 507.2L507.9 508.2L508.5 509.3L509.1 510.3L509.7 511.3L510.3 512.4L510.9 513.4L511.5 514.5L512.1 515.6L512.7 516.7L513.3 517.8L513.9 518.8L514.4 519.8L515 520.9L515.6 521.9L516.2 522.8L516.8 523.8L517.4 524.8L518 525.7L518.6 526.7L519.2 527.6L519.8 528.5L520.4 529.4L521 530.3L521.5 531.1L522.1 531.8L522.7 532.5L523.3 533.2L523.9 533.9L524.5 534.6L525.1 535.2L525.7 535.8L526.3 536.4L526.9 537L527.5 537.6L528.1 538.2L528.6 538.8L529.2 539.3L529.8 539.9L530.4 540.4L531 540.9L531.6 541.3L532.2 541.7L532.8 542L533.4 542.4L534 542.7L534.6 542.9L535.2 543.2L535.7 543.5L536.3 543.7L536.9 544L537.5 544.2L538.1 544.5L538.7 544.7L539.3 545L539.9 545.3L540.5 545.6L541.1 545.8L541.7 546.1L542.3 546.3L542.8 546.6L543.4 546.8L544 547L544.6 547.2L545.2 547.4L545.8 547.6L546.4 547.8L547 547.9L547.6 548.1L548.2 548.3L548.8 548.4L549.4 548.6L549.9 548.7L550.5 548.9L551.1 549L551.7 549.1L552.3 549.3L552.9 549.4" fill="none" stroke="#c4c4c4" stroke-width="0.9" stroke-linejoin="round" stroke-linecap="round" stroke-opacity="0.75" transform="translate(-0.2 -0.4)"/><path d="M465.9 549.7L466.5 548.9L467.1 548L467.7 547L468.3 545.9L468.9 544.7L469.5 543.5L470.1 542.2L470.7 540.9L471.3 539.3L471.9 537.7L472.4 535.9L473 534L473.6 532.1L474.2 530.2L474.8 528.3L475.4 526.5L476 524.6L476.6 522.6L477.2 520.7L477.8 518.8L478.4 516.9L479 515.1L479.5 513.4L480.1 511.6L480.7 509.8L481.3 508.1L481.9 506.4L482.5 504.8L483.1 503.4L483.7 502.1L484.3 501L484.9 499.9L485.5 498.9L486.1 498L486.6 497.2L487.2 496.4L487.8 495.8L488.4 495.2L489 494.6L489.6 494L490.2 493.6L490.8 493.2L491.4 492.9L492 492.7L492.6 492.6L493.2 492.4L493.7 492.3L494.3 492.2L494.9 492.2L495.5 492.1L496.1 492.1L496.7 492.1L497.3 492.2L497.9 492.3L498.5 492.5L499.1 492.7L499.7 492.9L500.2 493.2L500.8 493.5L501.4 493.9L502 494.5L502.6 495.1L503.2 495.8L503.8 496.5L504.4 497.2L505 497.9L505.6 498.7L506.2 499.6L506.8 500.5L507.3 501.5L507.9 502.4L508.5 503.4L509.1 504.4L509.7 505.4L510.3 506.4L510.9 507.4L511.5 508.4L512.1 509.4L512.7 510.4L513.3 511.4L513.9 512.4L514.4 513.4L515 514.4L515.6 515.3L516.2 516.3L516.8 517.2L517.4 518.1L518 519L518.6 519.9L519.2 520.8L519.8 521.7L520.4 522.5L521 523.4L521.5 524.2L522.1 525L522.7 525.8L523.3 526.6L523.9 527.3L524.5 528.1L525.1 528.8L525.7 529.5L526.3 530.2L526.9 530.9L527.5 531.6L528.1 532.3L528.6 532.9L529.2 533.5L529.8 534L530.4 534.6L531 535.1L531.6 535.6L532.2 536L532.8 536.5L533.4 536.9L534 537.3L534.6 537.7L535.2 538L535.7 538.3L536.3 538.6L536.9 538.9L537.5 539.1L538.1 539.4L538.7 539.6L539.3 539.9L539.9 540.1L540.5 540.3L541.1 540.6L541.7 540.8L542.3 541L542.8 541.2L543.4 541.4L544 541.6L544.6 541.8L545.2 542L545.8 542.2L546.4 542.4L547 542.5L547.6 542.7L548.2 542.9L548.8 543L549.4 543.2L549.9 543.3L550.5 543.5L551.1 543.6L551.7 543.8L552.3 543.9L552.9 544" fill="none" stroke="#a9ecc8" stroke-width="3" stroke-linejoin="round" stroke-linecap="round"/><path d="M465.9 549.7L466.5 548.9L467.1 548L467.7 547L468.3 545.9L468.9 544.7L469.5 543.5L470.1 542.2L470.7 540.9L471.3 539.3L471.9 537.7L472.4 535.9L473 534L473.6 532.1L474.2 530.2L474.8 528.3L475.4 526.5L476 524.6L476.6 522.6L477.2 520.7L477.8 518.8L478.4 516.9L479 515.1L479.5 513.4L480.1 511.6L480.7 509.8L481.3 508.1L481.9 506.4L482.5 504.8L483.1 503.4L483.7 502.1L484.3 501L484.9 499.9L485.5 498.9L486.1 498L486.6 497.2L487.2 496.4L487.8 495.8L488.4 495.2L489 494.6L489.6 494L490.2 493.6L490.8 493.2L491.4 492.9L492 492.7L492.6 492.6L493.2 492.4L493.7 492.3L494.3 492.2L494.9 492.2L495.5 492.1L496.1 492.1L496.7 492.1L497.3 492.2L497.9 492.3L498.5 492.5L499.1 492.7L499.7 492.9L500.2 493.2L500.8 493.5L501.4 493.9L502 494.5L502.6 495.1L503.2 495.8L503.8 496.5L504.4 497.2L505 497.9L505.6 498.7L506.2 499.6L506.8 500.5L507.3 501.5L507.9 502.4L508.5 503.4L509.1 504.4L509.7 505.4L510.3 506.4L510.9 507.4L511.5 508.4L512.1 509.4L512.7 510.4L513.3 511.4L513.9 512.4L514.4 513.4L515 514.4L515.6 515.3L516.2 516.3L516.8 517.2L517.4 518.1L518 519L518.6 519.9L519.2 520.8L519.8 521.7L520.4 522.5L521 523.4L521.5 524.2L522.1 525L522.7 525.8L523.3 526.6L523.9 527.3L524.5 528.1L525.1 528.8L525.7 529.5L526.3 530.2L526.9 530.9L527.5 531.6L528.1 532.3L528.6 532.9L529.2 533.5L529.8 534L530.4 534.6L531 535.1L531.6 535.6L532.2 536L532.8 536.5L533.4 536.9L534 537.3L534.6 537.7L535.2 538L535.7 538.3L536.3 538.6L536.9 538.9L537.5 539.1L538.1 539.4L538.7 539.6L539.3 539.9L539.9 540.1L540.5 540.3L541.1 540.6L541.7 540.8L542.3 541L542.8 541.2L543.4 541.4L544 541.6L544.6 541.8L545.2 542L545.8 542.2L546.4 542.4L547 542.5L547.6 542.7L548.2 542.9L548.8 543L549.4 543.2L549.9 543.3L550.5 543.5L551.1 543.6L551.7 543.8L552.3 543.9L552.9 544" fill="none" stroke="#c9f4dd" stroke-width="0.9" stroke-linejoin="round" stroke-linecap="round" stroke-opacity="0.75" transform="translate(-0.2 -0.4)"/><path d="M465.9 549.3L466.5 549.8L467.1 549.6L467.7 549.5L468.3 549.8L468.9 549.5L469.5 549.5L470.1 549.9L470.7 549.2L471.3 549.2L471.9 549.5L472.5 549.3L473 549.1L473.6 549.3L474.2 549.2L474.8 549.4L475.4 548.9L476 548.9L476.6 548.8L477.2 549L477.8 547.9L478.4 547.8L479 547.3L479.6 546.2L480.2 546.1L480.8 545.6L481.3 544.4L481.9 543.8L482.5 542.2L483.1 541.6L483.7 540.8L484.3 539.8L484.9 540.4L485.5 540L486.1 540.7L486.7 540.5L487.3 540.6L487.9 540L488.5 540L489 540.4L489.6 540L490.2 540.2L490.8 539.9L491.4 540L492 540.1L492.6 539.9L493.2 539.2L493.8 538.3L494.4 538.3L495 538L495.6 536.8L496.2 536.6L496.8 535.9L497.3 535L497.9 534.2L498.5 533.3L499.1 532.7L499.7 531.5L500.3 530.9L500.9 529.8L501.5 529.4L502.1 529L502.7 527.7L503.3 526.4L503.9 526L504.5 525.1L505 524.2L505.6 523.2L506.2 522L506.8 521.1L507.4 519.5L508 518.8L508.6 517.6L509.2 516.1L509.8 515L510.4 514.3L511 513.1L511.6 512L512.2 511.2L512.8 510.6L513.3 509L513.9 508L514.5 507.2L515.1 506.6L515.7 505.6L516.3 504.8L516.9 503.9L517.5 502.7L518.1 501.9L518.7 501.3L519.3 500.7L519.9 500L520.5 499.5L521 499L521.6 498.5L522.2 497.8L522.8 496.7L523.4 496.5L524 496.3L524.6 495.7L525.2 495.3L525.8 494.5L526.4 494.1L527 494.2L527.6 493.4L528.2 493.3L528.7 492.5L529.3 492.5L529.9 492L530.5 492.5L531.1 492.5L531.7 492.4L532.3 492.3L532.9 492.4L533.5 492.9L534.1 492.7L534.7 492.8L535.3 493L535.9 493.2L536.5 492.8L537 493.4L537.6 493.7L538.2 493.5L538.8 493.7L539.4 493.8L540 493.7L540.6 493.9L541.2 494L541.8 494.1L542.4 494.5L543 495L543.6 495.4L544.2 495.9L544.7 496.3L545.3 497.1L545.9 497.8L546.5 498L547.1 499L547.7 499.9L548.3 500.2L548.9 501.2L549.5 501.6L550.1 502.5L550.7 503.4L551.3 504.1L551.9 504.5L552.5 505.2L553 505.9L553.6 506.5L554.2 507.4L554.8 507.7L555.4 508.8L556 509.1L556.6 509.6L557.2 510.2L557.8 510.7L558.4 512.2L559 512.3L559.6 512.9L560.2 513.6L560.7 514.7L561.3 515.1L561.9 515.5L562.5 516.9L563.1 517.2L563.7 517.7L564.3 518.8L564.9 519.2L565.5 520.2L566.1 520.8L566.7 521.4L567.3 521.7L567.9 522.4L568.5 522.7L569 523.7L569.6 524.1L570.2 524.4L570.8 525.1L571.4 526.1L572 526.1L572.6 527L573.2 527.3L573.8 527.8L574.4 528.2L575 528.9L575.6 529.8L576.2 530.2L576.7 530.1L577.3 530.7L577.9 530.8L578.5 531.3L579.1 531.9L579.7 531.9L580.3 532.7L580.9 533.3L581.5 532.7L582.1 534L582.7 533.8L583.3 534.1L583.9 534.7L584.4 535.5L585 535.3L585.6 536.2L586.2 536.6L586.8 536.7L587.4 536.8L588 537.2L588.6 537.4L589.2 538L589.8 538.3L590.4 538.8L591 538.9L591.6 539L592.2 539.6L592.7 539.7L593.3 540.3L593.9 540.6L594.5 540.7L595.1 541.1L595.7 541.2L596.3 541.6L596.9 541.5L597.5 542.2L598.1 542.5L598.7 543L599.3 543L599.9 543.1L600.4 543.7L601 543.7L601.6 543.8L602.2 544.2L602.8 544.5L603.4 544.3L604 544.7L604.6 544.8L605.2 544.8L605.8 545L606.4 545.5L607 545.7L607.6 545.6L608.2 545.9L608.7 546.4L609.3 545.8L609.9 546.3L610.5 546.2L611.1 546.8L611.7 546.4L612.3 547" fill="none" stroke="#2e8c5a" stroke-width="3" stroke-linejoin="round" stroke-linecap="round"/><path d="M465.9 549.3L466.5 549.8L467.1 549.6L467.7 549.5L468.3 549.8L468.9 549.5L469.5 549.5L470.1 549.9L470.7 549.2L471.3 549.2L471.9 549.5L472.5 549.3L473 549.1L473.6 549.3L474.2 549.2L474.8 549.4L475.4 548.9L476 548.9L476.6 548.8L477.2 549L477.8 547.9L478.4 547.8L479 547.3L479.6 546.2L480.2 546.1L480.8 545.6L481.3 544.4L481.9 543.8L482.5 542.2L483.1 541.6L483.7 540.8L484.3 539.8L484.9 540.4L485.5 540L486.1 540.7L486.7 540.5L487.3 540.6L487.9 540L488.5 540L489 540.4L489.6 540L490.2 540.2L490.8 539.9L491.4 540L492 540.1L492.6 539.9L493.2 539.2L493.8 538.3L494.4 538.3L495 538L495.6 536.8L496.2 536.6L496.8 535.9L497.3 535L497.9 534.2L498.5 533.3L499.1 532.7L499.7 531.5L500.3 530.9L500.9 529.8L501.5 529.4L502.1 529L502.7 527.7L503.3 526.4L503.9 526L504.5 525.1L505 524.2L505.6 523.2L506.2 522L506.8 521.1L507.4 519.5L508 518.8L508.6 517.6L509.2 516.1L509.8 515L510.4 514.3L511 513.1L511.6 512L512.2 511.2L512.8 510.6L513.3 509L513.9 508L514.5 507.2L515.1 506.6L515.7 505.6L516.3 504.8L516.9 503.9L517.5 502.7L518.1 501.9L518.7 501.3L519.3 500.7L519.9 500L520.5 499.5L521 499L521.6 498.5L522.2 497.8L522.8 496.7L523.4 496.5L524 496.3L524.6 495.7L525.2 495.3L525.8 494.5L526.4 494.1L527 494.2L527.6 493.4L528.2 493.3L528.7 492.5L529.3 492.5L529.9 492L530.5 492.5L531.1 492.5L531.7 492.4L532.3 492.3L532.9 492.4L533.5 492.9L534.1 492.7L534.7 492.8L535.3 493L535.9 493.2L536.5 492.8L537 493.4L537.6 493.7L538.2 493.5L538.8 493.7L539.4 493.8L540 493.7L540.6 493.9L541.2 494L541.8 494.1L542.4 494.5L543 495L543.6 495.4L544.2 495.9L544.7 496.3L545.3 497.1L545.9 497.8L546.5 498L547.1 499L547.7 499.9L548.3 500.2L548.9 501.2L549.5 501.6L550.1 502.5L550.7 503.4L551.3 504.1L551.9 504.5L552.5 505.2L553 505.9L553.6 506.5L554.2 507.4L554.8 507.7L555.4 508.8L556 509.1L556.6 509.6L557.2 510.2L557.8 510.7L558.4 512.2L559 512.3L559.6 512.9L560.2 513.6L560.7 514.7L561.3 515.1L561.9 515.5L562.5 516.9L563.1 517.2L563.7 517.7L564.3 518.8L564.9 519.2L565.5 520.2L566.1 520.8L566.7 521.4L567.3 521.7L567.9 522.4L568.5 522.7L569 523.7L569.6 524.1L570.2 524.4L570.8 525.1L571.4 526.1L572 526.1L572.6 527L573.2 527.3L573.8 527.8L574.4 528.2L575 528.9L575.6 529.8L576.2 530.2L576.7 530.1L577.3 530.7L577.9 530.8L578.5 531.3L579.1 531.9L579.7 531.9L580.3 532.7L580.9 533.3L581.5 532.7L582.1 534L582.7 533.8L583.3 534.1L583.9 534.7L584.4 535.5L585 535.3L585.6 536.2L586.2 536.6L586.8 536.7L587.4 536.8L588 537.2L588.6 537.4L589.2 538L589.8 538.3L590.4 538.8L591 538.9L591.6 539L592.2 539.6L592.7 539.7L593.3 540.3L593.9 540.6L594.5 540.7L595.1 541.1L595.7 541.2L596.3 541.6L596.9 541.5L597.5 542.2L598.1 542.5L598.7 543L599.3 543L599.9 543.1L600.4 543.7L601 543.7L601.6 543.8L602.2 544.2L602.8 544.5L603.4 544.3L604 544.7L604.6 544.8L605.2 544.8L605.8 545L606.4 545.5L607 545.7L607.6 545.6L608.2 545.9L608.7 546.4L609.3 545.8L609.9 546.3L610.5 546.2L611.1 546.8L611.7 546.4L612.3 547" fill="none" stroke="#79caa0" stroke-width="0.9" stroke-linejoin="round" stroke-linecap="round" stroke-opacity="0.75" transform="translate(-0.2 -0.4)"/><rect x="463.8" y="434" width="151.8" height="121.9" fill="none" stroke="#141414" stroke-width="1.5"/><path d="M463.8 550h-3M463.8 521h-3M463.8 492.1h-3M463.8 463.1h-3M463.8 434.2h-3M463.8 555.9v3M493.5 555.9v3M523.2 555.9v3M552.9 555.9v3M582.6 555.9v3M612.3 555.9v3" stroke="#141414" stroke-width="1.3"/><g font-family="Liberation Sans, sans-serif" font-weight="bold" fill="#1a1a1a"><text x="458.8" y="552.7" font-size="7.5" text-anchor="end" >0.0</text><text x="458.8" y="523.8" font-size="7.5" text-anchor="end" >0.5</text><text x="458.8" y="494.8" font-size="7.5" text-anchor="end" >1.0</text><text x="458.8" y="465.8" font-size="7.5" text-anchor="end" >1.5</text><text x="458.8" y="436.9" font-size="7.5" text-anchor="end" >2.0</text><text x="463.8" y="566.8" font-size="7.4" text-anchor="middle" >300</text><text x="493.5" y="566.8" font-size="7.4" text-anchor="middle" >350</text><text x="523.2" y="566.8" font-size="7.4" text-anchor="middle" >400</text><text x="552.9" y="566.8" font-size="7.4" text-anchor="middle" >450</text><text x="582.6" y="566.8" font-size="7.4" text-anchor="middle" >500</text><text x="612.3" y="566.8" font-size="7.4" text-anchor="middle" >550</text><text x="539.5" y="577.8" font-size="9.2" text-anchor="middle" >Wavelength (nm)</text><text transform="translate(441.8 494.3) rotate(-90)" font-size="8.7" text-anchor="middle">Normalized fluorescence (A.U.)</text><text x="617.4" y="554" font-size="15.5" text-anchor="start" >(e)</text><circle cx="550" cy="441.6" r="2.6" fill="#8f8f8f"/><circle cx="549.4" cy="440.9" r="1.1" fill="#d5d5d5"/><text x="557.9" y="444.6" font-size="8.5" text-anchor="start" >Native SC</text><circle cx="550" cy="452.3" r="2.6" fill="#a9ecc8"/><circle cx="549.4" cy="451.6" r="1.1" fill="#e6fbf0"/><text x="557.9" y="455.3" font-size="8.5" text-anchor="start" >SC-DD@OA</text><circle cx="550" cy="463" r="2.6" fill="#2b8a57"/><circle cx="549.4" cy="462.3" r="1.1" fill="#7dcfa2"/><text x="557.9" y="466" font-size="8.5" text-anchor="start" >SC-DD@LNA</text><text x="478.3" y="468.4" font-size="7.95" text-anchor="start" >6.17±1.04 nm**</text><text x="500.4" y="481.8" font-size="7.95" text-anchor="start" >57.67±0.29 nm***</text></g><path d="M493.6 492V470.8M497.7 492V470.8M493.6 470.8H497.7M497.7 484.6H530.7M530.7 484.6V491.5" stroke="#e8807a" stroke-width="0.65" stroke-dasharray="1.3 1" fill="none"/><path d="M497.7 470.8l-2.4 -1.2v2.4zM530.7 484.6l-2.4 -1.2v2.4z" fill="#e8807a"/></svg></body></html>
